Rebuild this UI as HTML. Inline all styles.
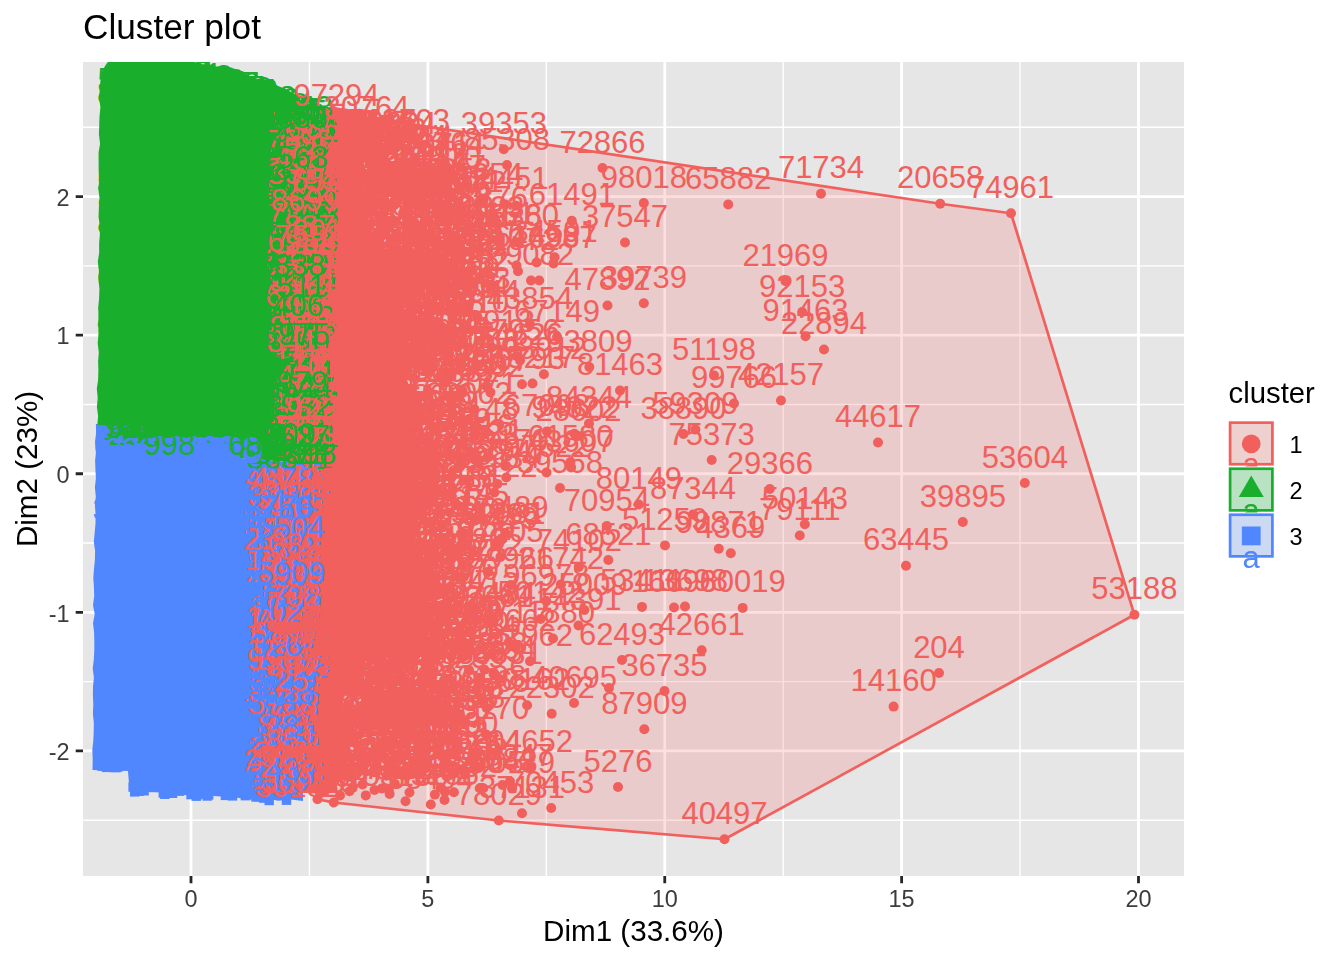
<!DOCTYPE html><html><head><meta charset="utf-8"><title>Cluster plot</title>
<style>html,body{margin:0;padding:0;background:#fff}svg{display:block}text{font-family:"Liberation Sans",sans-serif}.r{fill:#F1605C}.g{fill:#19AF2D}.b{fill:#5087FF}.L{font-size:31.0px;text-anchor:middle}</style></head><body>
<svg width="1344" height="960" viewBox="0 0 1344 960">
<rect width="1344" height="960" fill="#fff"/>
<g opacity="0.999">
<defs><clipPath id="cp"><rect x="83" y="62" width="1101" height="814"/></clipPath></defs>
<rect x="83" y="62" width="1101" height="814" fill="#E6E6E6"/>
<path d="M83 127.25H1184M83 265.85H1184M83 404.45H1184M83 543.05H1184M83 681.65H1184M83 820.25H1184M309.44 62V876M546.31 62V876M783.19 62V876M1020.06 62V876" stroke="#fff" stroke-width="1.4" fill="none"/>
<path d="M83 196.55H1184M83 335.15H1184M83 473.75H1184M83 612.35H1184M83 750.95H1184M191.00 62V876M427.88 62V876M664.75 62V876M901.62 62V876M1138.50 62V876" stroke="#fff" stroke-width="2.8" fill="none"/>
<g clip-path="url(#cp)">
<polygon class="b" points="95.9,424.0 96.1,433.1 95.0,442.1 96.1,451.2 95.1,460.2 95.4,469.3 95.9,478.3 94.9,487.4 95.8,496.4 94.9,505.5 95.6,514.5 95.5,523.6 94.7,532.6 93.8,541.7 95.1,550.7 94.9,559.8 94.0,568.8 93.3,577.9 93.9,586.9 94.2,596.0 93.0,605.0 94.7,614.1 93.0,623.2 94.1,632.2 94.3,641.3 94.3,650.3 93.8,659.4 92.7,668.4 93.9,677.5 93.0,686.5 92.9,695.6 93.3,704.6 92.9,713.7 93.8,722.7 93.7,731.8 93.3,740.8 92.3,749.9 92.7,758.9 92.5,770.0 128.0,771.0 129.5,790.0 130.0,790.6 142.3,791.9 154.7,792.3 167.1,792.7 179.4,794.6 191.8,795.0 204.2,794.7 216.5,796.2 228.9,796.8 241.2,798.3 253.5,798.7 266.0,798.3 278.2,800.7 290.7,799.4 303.0,801.0 300.0,463.0 240.0,458.0 215.0,440.0 200.0,427.0 150.0,425.0"/>
<polygon class="g" points="240.0,458.0 215.0,440.0 200.0,427.0 97.3,425.0 98.1,415.9 96.9,406.8 97.7,397.8 96.8,388.7 98.2,379.6 98.4,370.5 98.1,361.4 98.8,352.4 97.7,343.3 98.5,334.2 98.4,325.1 98.4,316.1 98.3,307.0 99.1,297.9 99.4,288.8 98.5,279.7 98.9,270.7 97.8,261.6 99.2,252.5 99.1,243.4 99.9,234.3 99.6,225.3 98.6,216.2 98.9,207.1 99.5,198.0 98.3,188.9 99.2,179.9 98.7,170.8 98.6,161.7 98.6,152.6 100.1,143.6 98.9,134.5 99.2,125.4 99.5,116.3 100.5,107.2 99.0,98.2 99.8,89.1 101.0,74.0 105.0,66.0 110.6,58.0 191.0,58.0 191.0,61.1 198.8,63.6 206.8,64.9 214.8,66.6 223.1,66.3 231.0,68.3 239.2,69.6 246.9,74.7 255.1,78.6 264.4,80.0 271.6,83.1 278.7,86.3 285.9,89.3 292.8,93.0 300.0,98.0 302.0,463.0"/>
<polygon class="r" points="287.0,480.0 300.0,463.0 300.0,112.0 304.0,108.4 312.0,107.1 320.0,106.0 328.0,107.7 336.0,107.5 344.0,108.3 352.0,109.8 360.0,108.8 367.8,110.0 366.7,121.6 365.9,133.3 372.0,145.1 363.3,156.6 364.4,168.3 363.3,179.9 363.9,191.6 367.7,203.3 367.5,215.0 370.3,226.7 364.8,238.3 370.0,248.3 374.8,259.7 378.4,271.7 383.7,283.0 386.9,295.1 394.4,305.4 399.7,316.6 403.4,329.3 406.2,340.9 406.0,353.1 411.7,364.1 405.7,377.4 410.5,388.6 418.2,400.0 417.0,411.1 415.8,422.2 415.6,433.3 418.5,444.4 409.8,455.6 408.1,466.7 414.4,477.8 414.2,488.9 419.0,500.0 418.8,511.1 415.9,522.2 416.8,533.3 410.1,544.4 418.1,555.6 419.7,566.7 408.6,577.8 413.7,588.9 417.3,601.2 408.9,613.2 409.1,628.2 399.9,639.8 387.0,641.4 376.7,648.0 366.7,655.1 357.9,664.5 347.3,668.1 348.6,679.3 341.8,690.0 343.5,701.3 340.3,712.2 344.1,723.6 344.4,734.7 337.8,745.4 335.3,756.4 335.9,767.6 335.7,778.7 338.1,792.7 329.4,792.4 320.6,793.8 287.0,792.0"/>
<g class="r">
<circle cx="1011.0" cy="213.2" r="5"/><circle cx="940.2" cy="203.8" r="5"/><circle cx="821.0" cy="193.8" r="5"/><circle cx="728.2" cy="204.5" r="5"/><circle cx="643.8" cy="203.0" r="5"/><circle cx="602.5" cy="168.0" r="5"/><circle cx="503.8" cy="149.2" r="5"/><circle cx="507.0" cy="165.0" r="5"/><circle cx="571.8" cy="220.8" r="5"/><circle cx="625.0" cy="242.5" r="5"/><circle cx="505.5" cy="204.5" r="5"/><circle cx="516.2" cy="205.8" r="5"/><circle cx="481.5" cy="233.0" r="5"/><circle cx="478.0" cy="249.0" r="5"/><circle cx="516.5" cy="265.5" r="5"/><circle cx="518.0" cy="271.2" r="5"/><circle cx="531.0" cy="280.5" r="5"/><circle cx="539.2" cy="280.5" r="5"/><circle cx="607.5" cy="305.5" r="5"/><circle cx="643.8" cy="303.2" r="5"/><circle cx="785.5" cy="281.2" r="5"/><circle cx="802.2" cy="312.0" r="5"/><circle cx="805.5" cy="336.2" r="5"/><circle cx="824.0" cy="349.5" r="5"/><circle cx="557.0" cy="337.0" r="5"/><circle cx="516.5" cy="356.0" r="5"/><circle cx="589.3" cy="367.0" r="5"/><circle cx="532.5" cy="383.5" r="5"/><circle cx="620.0" cy="390.5" r="5"/><circle cx="714.0" cy="375.4" r="5"/><circle cx="734.0" cy="403.5" r="5"/><circle cx="781.0" cy="400.5" r="5"/><circle cx="695.4" cy="429.6" r="5"/><circle cx="683.5" cy="434.0" r="5"/><circle cx="711.7" cy="460.0" r="5"/><circle cx="878.0" cy="442.5" r="5"/><circle cx="1024.8" cy="483.0" r="5"/><circle cx="769.8" cy="489.0" r="5"/><circle cx="589.0" cy="423.5" r="5"/><circle cx="578.5" cy="436.0" r="5"/><circle cx="570.5" cy="462.0" r="5"/><circle cx="546.5" cy="472.5" r="5"/><circle cx="560.0" cy="488.0" r="5"/><circle cx="638.8" cy="504.5" r="5"/><circle cx="693.0" cy="514.6" r="5"/><circle cx="962.8" cy="522.0" r="5"/><circle cx="804.8" cy="524.2" r="5"/><circle cx="799.8" cy="535.5" r="5"/><circle cx="665.0" cy="545.4" r="5"/><circle cx="718.8" cy="548.8" r="5"/><circle cx="730.8" cy="553.3" r="5"/><circle cx="606.8" cy="526.0" r="5"/><circle cx="608.3" cy="560.0" r="5"/><circle cx="578.8" cy="566.9" r="5"/><circle cx="906.0" cy="565.8" r="5"/><circle cx="1134.4" cy="614.8" r="5"/><circle cx="642.0" cy="606.9" r="5"/><circle cx="674.0" cy="607.5" r="5"/><circle cx="685.0" cy="606.5" r="5"/><circle cx="742.7" cy="607.9" r="5"/><circle cx="584.4" cy="610.0" r="5"/><circle cx="578.5" cy="625.5" r="5"/><circle cx="553.0" cy="638.5" r="5"/><circle cx="701.7" cy="650.2" r="5"/><circle cx="622.0" cy="660.0" r="5"/><circle cx="664.5" cy="691.0" r="5"/><circle cx="939.0" cy="673.0" r="5"/><circle cx="893.6" cy="706.6" r="5"/><circle cx="644.3" cy="729.2" r="5"/><circle cx="574.0" cy="703.0" r="5"/><circle cx="609.0" cy="688.0" r="5"/><circle cx="551.7" cy="713.8" r="5"/><circle cx="530.0" cy="767.5" r="5"/><circle cx="512.0" cy="788.6" r="5"/><circle cx="618.0" cy="787.0" r="5"/><circle cx="551.2" cy="808.0" r="5"/><circle cx="498.8" cy="820.5" r="5"/><circle cx="724.5" cy="839.2" r="5"/><circle cx="340.0" cy="370.4" r="5"/><circle cx="340.1" cy="773.1" r="5"/><circle cx="340.4" cy="659.3" r="5"/><circle cx="340.5" cy="652.5" r="5"/><circle cx="340.5" cy="622.7" r="5"/><circle cx="340.6" cy="749.0" r="5"/><circle cx="340.8" cy="676.6" r="5"/><circle cx="340.9" cy="636.0" r="5"/><circle cx="341.1" cy="710.5" r="5"/><circle cx="341.1" cy="425.4" r="5"/><circle cx="341.2" cy="649.4" r="5"/><circle cx="341.2" cy="166.5" r="5"/><circle cx="341.7" cy="295.6" r="5"/><circle cx="342.3" cy="359.7" r="5"/><circle cx="342.3" cy="499.6" r="5"/><circle cx="343.0" cy="461.0" r="5"/><circle cx="343.1" cy="660.8" r="5"/><circle cx="343.1" cy="218.2" r="5"/><circle cx="343.3" cy="313.4" r="5"/><circle cx="343.9" cy="163.1" r="5"/><circle cx="344.1" cy="279.1" r="5"/><circle cx="344.4" cy="419.4" r="5"/><circle cx="344.5" cy="575.6" r="5"/><circle cx="344.5" cy="376.1" r="5"/><circle cx="344.6" cy="466.4" r="5"/><circle cx="344.6" cy="671.0" r="5"/><circle cx="344.6" cy="337.1" r="5"/><circle cx="344.9" cy="460.8" r="5"/><circle cx="345.3" cy="288.7" r="5"/><circle cx="345.6" cy="631.6" r="5"/><circle cx="345.8" cy="189.5" r="5"/><circle cx="345.9" cy="772.3" r="5"/><circle cx="346.2" cy="431.7" r="5"/><circle cx="346.2" cy="321.1" r="5"/><circle cx="346.4" cy="455.6" r="5"/><circle cx="346.5" cy="384.0" r="5"/><circle cx="346.6" cy="685.5" r="5"/><circle cx="346.8" cy="417.8" r="5"/><circle cx="347.0" cy="539.5" r="5"/><circle cx="347.0" cy="742.6" r="5"/><circle cx="347.1" cy="403.6" r="5"/><circle cx="347.1" cy="248.0" r="5"/><circle cx="347.1" cy="434.0" r="5"/><circle cx="347.2" cy="264.3" r="5"/><circle cx="347.2" cy="624.8" r="5"/><circle cx="347.3" cy="513.1" r="5"/><circle cx="347.5" cy="153.2" r="5"/><circle cx="347.8" cy="458.1" r="5"/><circle cx="348.2" cy="594.1" r="5"/><circle cx="349.2" cy="560.7" r="5"/><circle cx="349.4" cy="286.8" r="5"/><circle cx="349.4" cy="397.3" r="5"/><circle cx="349.4" cy="462.0" r="5"/><circle cx="349.5" cy="757.2" r="5"/><circle cx="349.5" cy="527.4" r="5"/><circle cx="349.8" cy="382.6" r="5"/><circle cx="350.0" cy="639.9" r="5"/><circle cx="350.0" cy="447.5" r="5"/><circle cx="350.2" cy="533.6" r="5"/><circle cx="350.5" cy="677.3" r="5"/><circle cx="350.7" cy="390.9" r="5"/><circle cx="350.7" cy="462.6" r="5"/><circle cx="351.0" cy="300.2" r="5"/><circle cx="351.3" cy="311.6" r="5"/><circle cx="351.7" cy="647.2" r="5"/><circle cx="351.7" cy="620.1" r="5"/><circle cx="351.8" cy="441.4" r="5"/><circle cx="351.9" cy="735.0" r="5"/><circle cx="352.1" cy="366.9" r="5"/><circle cx="352.2" cy="271.6" r="5"/><circle cx="352.2" cy="543.8" r="5"/><circle cx="352.3" cy="180.2" r="5"/><circle cx="352.4" cy="411.4" r="5"/><circle cx="352.5" cy="559.1" r="5"/><circle cx="352.6" cy="241.1" r="5"/><circle cx="352.6" cy="245.0" r="5"/><circle cx="352.9" cy="619.6" r="5"/><circle cx="352.9" cy="742.3" r="5"/><circle cx="352.9" cy="684.8" r="5"/><circle cx="353.1" cy="651.3" r="5"/><circle cx="353.3" cy="476.6" r="5"/><circle cx="353.5" cy="670.8" r="5"/><circle cx="353.5" cy="685.5" r="5"/><circle cx="353.7" cy="467.3" r="5"/><circle cx="354.0" cy="165.5" r="5"/><circle cx="354.1" cy="472.5" r="5"/><circle cx="354.1" cy="650.3" r="5"/><circle cx="354.3" cy="736.3" r="5"/><circle cx="354.7" cy="347.1" r="5"/><circle cx="354.8" cy="655.5" r="5"/><circle cx="354.9" cy="659.1" r="5"/><circle cx="354.9" cy="354.7" r="5"/><circle cx="355.1" cy="571.8" r="5"/><circle cx="355.2" cy="376.4" r="5"/><circle cx="355.2" cy="153.5" r="5"/><circle cx="355.3" cy="487.3" r="5"/><circle cx="355.4" cy="649.1" r="5"/><circle cx="355.5" cy="460.4" r="5"/><circle cx="355.6" cy="403.8" r="5"/><circle cx="355.7" cy="340.8" r="5"/><circle cx="355.9" cy="286.4" r="5"/><circle cx="356.1" cy="310.7" r="5"/><circle cx="356.1" cy="713.0" r="5"/><circle cx="356.3" cy="271.3" r="5"/><circle cx="356.4" cy="353.3" r="5"/><circle cx="356.7" cy="160.5" r="5"/><circle cx="356.7" cy="231.5" r="5"/><circle cx="356.8" cy="619.6" r="5"/><circle cx="356.9" cy="389.4" r="5"/><circle cx="357.0" cy="204.1" r="5"/><circle cx="357.1" cy="358.5" r="5"/><circle cx="357.2" cy="477.3" r="5"/><circle cx="357.2" cy="673.8" r="5"/><circle cx="357.3" cy="628.6" r="5"/><circle cx="357.3" cy="658.7" r="5"/><circle cx="357.9" cy="754.8" r="5"/><circle cx="358.0" cy="366.3" r="5"/><circle cx="358.1" cy="623.1" r="5"/><circle cx="358.3" cy="294.2" r="5"/><circle cx="358.3" cy="479.7" r="5"/><circle cx="358.3" cy="568.2" r="5"/><circle cx="358.4" cy="617.4" r="5"/><circle cx="359.1" cy="288.2" r="5"/><circle cx="359.1" cy="548.9" r="5"/><circle cx="359.2" cy="549.8" r="5"/><circle cx="359.5" cy="656.2" r="5"/><circle cx="359.5" cy="585.6" r="5"/><circle cx="359.6" cy="388.2" r="5"/><circle cx="360.1" cy="440.6" r="5"/><circle cx="360.4" cy="444.5" r="5"/><circle cx="360.9" cy="660.4" r="5"/><circle cx="361.3" cy="650.7" r="5"/><circle cx="361.4" cy="568.0" r="5"/><circle cx="361.4" cy="205.3" r="5"/><circle cx="361.9" cy="311.6" r="5"/><circle cx="362.0" cy="299.9" r="5"/><circle cx="362.6" cy="666.9" r="5"/><circle cx="362.6" cy="423.1" r="5"/><circle cx="363.0" cy="346.0" r="5"/><circle cx="363.1" cy="209.8" r="5"/><circle cx="363.5" cy="636.9" r="5"/><circle cx="363.5" cy="708.3" r="5"/><circle cx="363.6" cy="259.6" r="5"/><circle cx="363.9" cy="417.8" r="5"/><circle cx="364.0" cy="510.5" r="5"/><circle cx="364.0" cy="634.8" r="5"/><circle cx="364.3" cy="607.3" r="5"/><circle cx="364.6" cy="761.9" r="5"/><circle cx="364.7" cy="509.1" r="5"/><circle cx="364.8" cy="612.9" r="5"/><circle cx="365.0" cy="314.0" r="5"/><circle cx="365.8" cy="522.0" r="5"/><circle cx="366.0" cy="262.5" r="5"/><circle cx="366.0" cy="507.7" r="5"/><circle cx="366.2" cy="345.3" r="5"/><circle cx="366.7" cy="304.9" r="5"/><circle cx="366.8" cy="157.0" r="5"/><circle cx="367.1" cy="500.1" r="5"/><circle cx="367.5" cy="175.4" r="5"/><circle cx="367.7" cy="294.8" r="5"/><circle cx="367.7" cy="683.1" r="5"/><circle cx="368.0" cy="434.5" r="5"/><circle cx="368.0" cy="378.1" r="5"/><circle cx="368.0" cy="500.5" r="5"/><circle cx="368.1" cy="300.2" r="5"/><circle cx="368.1" cy="729.1" r="5"/><circle cx="368.3" cy="684.7" r="5"/><circle cx="368.3" cy="309.9" r="5"/><circle cx="368.3" cy="724.5" r="5"/><circle cx="368.3" cy="557.0" r="5"/><circle cx="368.6" cy="267.5" r="5"/><circle cx="368.7" cy="253.6" r="5"/><circle cx="368.8" cy="519.9" r="5"/><circle cx="368.9" cy="610.5" r="5"/><circle cx="368.9" cy="573.8" r="5"/><circle cx="369.5" cy="329.5" r="5"/><circle cx="369.7" cy="158.7" r="5"/><circle cx="369.8" cy="200.4" r="5"/><circle cx="369.8" cy="466.2" r="5"/><circle cx="370.0" cy="492.9" r="5"/><circle cx="370.0" cy="626.9" r="5"/><circle cx="370.2" cy="360.3" r="5"/><circle cx="370.4" cy="210.3" r="5"/><circle cx="370.4" cy="152.6" r="5"/><circle cx="370.7" cy="582.4" r="5"/><circle cx="370.8" cy="562.2" r="5"/><circle cx="371.4" cy="674.2" r="5"/><circle cx="371.6" cy="242.6" r="5"/><circle cx="372.0" cy="575.8" r="5"/><circle cx="372.6" cy="611.7" r="5"/><circle cx="372.7" cy="562.8" r="5"/><circle cx="372.8" cy="423.8" r="5"/><circle cx="373.2" cy="146.0" r="5"/><circle cx="373.2" cy="489.7" r="5"/><circle cx="373.7" cy="474.2" r="5"/><circle cx="373.9" cy="469.1" r="5"/><circle cx="374.1" cy="149.1" r="5"/><circle cx="374.3" cy="158.0" r="5"/><circle cx="374.4" cy="606.9" r="5"/><circle cx="374.6" cy="167.7" r="5"/><circle cx="374.7" cy="608.9" r="5"/><circle cx="374.7" cy="706.8" r="5"/><circle cx="374.8" cy="402.7" r="5"/><circle cx="374.9" cy="423.9" r="5"/><circle cx="375.0" cy="658.9" r="5"/><circle cx="375.1" cy="435.1" r="5"/><circle cx="375.4" cy="646.6" r="5"/><circle cx="375.7" cy="751.7" r="5"/><circle cx="375.8" cy="725.7" r="5"/><circle cx="375.9" cy="257.8" r="5"/><circle cx="376.0" cy="165.5" r="5"/><circle cx="376.3" cy="751.0" r="5"/><circle cx="376.4" cy="656.7" r="5"/><circle cx="376.9" cy="253.2" r="5"/><circle cx="377.0" cy="302.3" r="5"/><circle cx="377.0" cy="555.4" r="5"/><circle cx="377.0" cy="294.6" r="5"/><circle cx="377.1" cy="550.8" r="5"/><circle cx="377.3" cy="404.8" r="5"/><circle cx="377.3" cy="274.2" r="5"/><circle cx="377.3" cy="503.8" r="5"/><circle cx="377.5" cy="300.2" r="5"/><circle cx="377.6" cy="333.1" r="5"/><circle cx="377.7" cy="353.0" r="5"/><circle cx="377.9" cy="305.3" r="5"/><circle cx="378.2" cy="612.2" r="5"/><circle cx="378.3" cy="415.0" r="5"/><circle cx="378.7" cy="477.6" r="5"/><circle cx="378.9" cy="670.0" r="5"/><circle cx="378.9" cy="509.2" r="5"/><circle cx="379.2" cy="432.4" r="5"/><circle cx="379.3" cy="428.5" r="5"/><circle cx="379.4" cy="514.4" r="5"/><circle cx="380.0" cy="171.5" r="5"/><circle cx="380.0" cy="219.4" r="5"/><circle cx="380.2" cy="709.1" r="5"/><circle cx="380.3" cy="621.2" r="5"/><circle cx="380.6" cy="520.4" r="5"/><circle cx="380.6" cy="309.6" r="5"/><circle cx="381.0" cy="164.4" r="5"/><circle cx="381.1" cy="433.9" r="5"/><circle cx="381.1" cy="356.1" r="5"/><circle cx="381.5" cy="346.5" r="5"/><circle cx="381.7" cy="788.5" r="5"/><circle cx="381.9" cy="378.3" r="5"/><circle cx="382.1" cy="500.8" r="5"/><circle cx="382.7" cy="579.6" r="5"/><circle cx="382.9" cy="524.6" r="5"/><circle cx="383.3" cy="708.0" r="5"/><circle cx="383.4" cy="310.3" r="5"/><circle cx="383.4" cy="155.6" r="5"/><circle cx="383.4" cy="469.4" r="5"/><circle cx="383.6" cy="534.0" r="5"/><circle cx="383.6" cy="231.7" r="5"/><circle cx="383.8" cy="584.8" r="5"/><circle cx="384.1" cy="711.4" r="5"/><circle cx="384.5" cy="357.4" r="5"/><circle cx="384.9" cy="454.1" r="5"/><circle cx="385.1" cy="647.1" r="5"/><circle cx="385.2" cy="649.2" r="5"/><circle cx="385.4" cy="487.4" r="5"/><circle cx="385.8" cy="731.3" r="5"/><circle cx="386.2" cy="164.1" r="5"/><circle cx="386.3" cy="514.3" r="5"/><circle cx="386.7" cy="282.2" r="5"/><circle cx="386.8" cy="667.5" r="5"/><circle cx="387.2" cy="424.3" r="5"/><circle cx="387.4" cy="486.0" r="5"/><circle cx="387.6" cy="371.8" r="5"/><circle cx="387.7" cy="322.2" r="5"/><circle cx="387.9" cy="272.6" r="5"/><circle cx="388.0" cy="356.6" r="5"/><circle cx="388.2" cy="611.1" r="5"/><circle cx="389.1" cy="548.4" r="5"/><circle cx="389.3" cy="607.7" r="5"/><circle cx="389.4" cy="681.7" r="5"/><circle cx="389.4" cy="543.1" r="5"/><circle cx="389.6" cy="794.0" r="5"/><circle cx="389.8" cy="708.7" r="5"/><circle cx="389.9" cy="439.7" r="5"/><circle cx="390.1" cy="638.1" r="5"/><circle cx="390.2" cy="665.8" r="5"/><circle cx="390.3" cy="183.8" r="5"/><circle cx="390.4" cy="312.2" r="5"/><circle cx="390.5" cy="703.0" r="5"/><circle cx="390.6" cy="387.4" r="5"/><circle cx="390.6" cy="540.2" r="5"/><circle cx="390.8" cy="522.6" r="5"/><circle cx="390.8" cy="435.3" r="5"/><circle cx="391.2" cy="289.9" r="5"/><circle cx="391.3" cy="696.2" r="5"/><circle cx="391.4" cy="410.5" r="5"/><circle cx="391.4" cy="482.6" r="5"/><circle cx="391.7" cy="588.1" r="5"/><circle cx="392.0" cy="513.0" r="5"/><circle cx="392.1" cy="715.7" r="5"/><circle cx="392.2" cy="469.2" r="5"/><circle cx="392.3" cy="741.5" r="5"/><circle cx="392.3" cy="206.8" r="5"/><circle cx="392.4" cy="433.9" r="5"/><circle cx="392.5" cy="524.2" r="5"/><circle cx="392.6" cy="275.9" r="5"/><circle cx="392.9" cy="488.3" r="5"/><circle cx="393.1" cy="738.4" r="5"/><circle cx="393.2" cy="497.7" r="5"/><circle cx="393.3" cy="149.0" r="5"/><circle cx="393.4" cy="628.1" r="5"/><circle cx="393.6" cy="221.3" r="5"/><circle cx="393.6" cy="480.2" r="5"/><circle cx="393.6" cy="689.5" r="5"/><circle cx="393.7" cy="576.7" r="5"/><circle cx="393.7" cy="317.2" r="5"/><circle cx="393.7" cy="494.8" r="5"/><circle cx="394.4" cy="303.6" r="5"/><circle cx="394.6" cy="319.5" r="5"/><circle cx="394.6" cy="516.9" r="5"/><circle cx="394.8" cy="783.9" r="5"/><circle cx="394.9" cy="743.8" r="5"/><circle cx="395.1" cy="479.4" r="5"/><circle cx="395.2" cy="192.4" r="5"/><circle cx="395.3" cy="560.2" r="5"/><circle cx="395.6" cy="630.7" r="5"/><circle cx="395.9" cy="530.6" r="5"/><circle cx="396.4" cy="608.2" r="5"/><circle cx="396.8" cy="661.5" r="5"/><circle cx="397.1" cy="343.3" r="5"/><circle cx="397.4" cy="681.0" r="5"/><circle cx="397.9" cy="490.5" r="5"/><circle cx="397.9" cy="672.3" r="5"/><circle cx="398.4" cy="322.6" r="5"/><circle cx="398.8" cy="481.3" r="5"/><circle cx="398.8" cy="360.7" r="5"/><circle cx="399.0" cy="501.8" r="5"/><circle cx="399.8" cy="651.9" r="5"/><circle cx="399.9" cy="759.1" r="5"/><circle cx="399.9" cy="590.4" r="5"/><circle cx="400.1" cy="354.5" r="5"/><circle cx="400.3" cy="441.3" r="5"/><circle cx="400.3" cy="539.4" r="5"/><circle cx="400.8" cy="259.0" r="5"/><circle cx="401.1" cy="372.2" r="5"/><circle cx="401.2" cy="610.4" r="5"/><circle cx="401.3" cy="732.2" r="5"/><circle cx="401.5" cy="195.7" r="5"/><circle cx="402.2" cy="717.6" r="5"/><circle cx="402.3" cy="329.9" r="5"/><circle cx="402.3" cy="290.1" r="5"/><circle cx="402.3" cy="602.5" r="5"/><circle cx="402.5" cy="535.9" r="5"/><circle cx="402.6" cy="663.0" r="5"/><circle cx="402.6" cy="477.5" r="5"/><circle cx="402.7" cy="529.1" r="5"/><circle cx="403.1" cy="550.2" r="5"/><circle cx="403.2" cy="335.1" r="5"/><circle cx="403.3" cy="650.2" r="5"/><circle cx="403.5" cy="615.7" r="5"/><circle cx="403.8" cy="356.6" r="5"/><circle cx="404.0" cy="446.1" r="5"/><circle cx="404.0" cy="370.8" r="5"/><circle cx="404.2" cy="493.2" r="5"/><circle cx="404.4" cy="624.1" r="5"/><circle cx="404.4" cy="162.6" r="5"/><circle cx="404.4" cy="654.9" r="5"/><circle cx="405.8" cy="474.2" r="5"/><circle cx="405.9" cy="737.0" r="5"/><circle cx="406.0" cy="744.2" r="5"/><circle cx="406.3" cy="217.2" r="5"/><circle cx="406.5" cy="742.4" r="5"/><circle cx="407.4" cy="212.2" r="5"/><circle cx="407.4" cy="331.4" r="5"/><circle cx="407.5" cy="204.1" r="5"/><circle cx="407.7" cy="523.8" r="5"/><circle cx="408.0" cy="718.2" r="5"/><circle cx="408.4" cy="636.6" r="5"/><circle cx="408.5" cy="170.0" r="5"/><circle cx="408.5" cy="649.7" r="5"/><circle cx="408.6" cy="557.6" r="5"/><circle cx="408.9" cy="292.7" r="5"/><circle cx="409.0" cy="432.7" r="5"/><circle cx="409.2" cy="638.4" r="5"/><circle cx="409.3" cy="201.5" r="5"/><circle cx="409.3" cy="199.9" r="5"/><circle cx="409.5" cy="732.3" r="5"/><circle cx="409.6" cy="622.7" r="5"/><circle cx="409.8" cy="225.4" r="5"/><circle cx="409.8" cy="163.6" r="5"/><circle cx="409.9" cy="580.2" r="5"/><circle cx="410.0" cy="198.9" r="5"/><circle cx="410.5" cy="738.4" r="5"/><circle cx="410.6" cy="281.6" r="5"/><circle cx="410.6" cy="728.0" r="5"/><circle cx="410.7" cy="691.9" r="5"/><circle cx="411.1" cy="279.9" r="5"/><circle cx="411.3" cy="512.3" r="5"/><circle cx="411.7" cy="311.4" r="5"/><circle cx="412.0" cy="659.4" r="5"/><circle cx="412.1" cy="273.5" r="5"/><circle cx="412.6" cy="605.1" r="5"/><circle cx="412.7" cy="701.0" r="5"/><circle cx="412.7" cy="359.2" r="5"/><circle cx="413.3" cy="397.7" r="5"/><circle cx="413.4" cy="508.5" r="5"/><circle cx="413.4" cy="771.3" r="5"/><circle cx="413.5" cy="428.9" r="5"/><circle cx="413.5" cy="522.8" r="5"/><circle cx="413.8" cy="613.2" r="5"/><circle cx="414.2" cy="735.5" r="5"/><circle cx="414.6" cy="234.3" r="5"/><circle cx="415.2" cy="569.9" r="5"/><circle cx="416.0" cy="302.4" r="5"/><circle cx="416.2" cy="459.6" r="5"/><circle cx="416.3" cy="609.0" r="5"/><circle cx="416.5" cy="511.0" r="5"/><circle cx="417.1" cy="287.5" r="5"/><circle cx="417.1" cy="206.0" r="5"/><circle cx="417.1" cy="307.6" r="5"/><circle cx="417.5" cy="365.1" r="5"/><circle cx="417.6" cy="750.8" r="5"/><circle cx="417.7" cy="604.3" r="5"/><circle cx="417.7" cy="474.2" r="5"/><circle cx="417.9" cy="349.4" r="5"/><circle cx="418.3" cy="309.0" r="5"/><circle cx="418.6" cy="198.5" r="5"/><circle cx="418.7" cy="734.8" r="5"/><circle cx="419.0" cy="245.8" r="5"/><circle cx="419.3" cy="359.2" r="5"/><circle cx="419.5" cy="363.0" r="5"/><circle cx="419.6" cy="288.3" r="5"/><circle cx="419.9" cy="440.4" r="5"/><circle cx="420.1" cy="651.6" r="5"/><circle cx="420.3" cy="339.9" r="5"/><circle cx="420.5" cy="440.6" r="5"/><circle cx="420.7" cy="630.0" r="5"/><circle cx="420.7" cy="231.0" r="5"/><circle cx="420.8" cy="421.1" r="5"/><circle cx="421.0" cy="513.4" r="5"/><circle cx="421.2" cy="245.9" r="5"/><circle cx="421.8" cy="581.9" r="5"/><circle cx="422.0" cy="395.9" r="5"/><circle cx="422.1" cy="761.2" r="5"/><circle cx="422.4" cy="572.3" r="5"/><circle cx="422.6" cy="679.1" r="5"/><circle cx="422.6" cy="358.9" r="5"/><circle cx="423.0" cy="720.9" r="5"/><circle cx="423.6" cy="626.5" r="5"/><circle cx="423.7" cy="209.8" r="5"/><circle cx="423.9" cy="570.0" r="5"/><circle cx="424.2" cy="471.4" r="5"/><circle cx="424.7" cy="180.7" r="5"/><circle cx="425.6" cy="440.0" r="5"/><circle cx="425.6" cy="356.8" r="5"/><circle cx="425.7" cy="641.3" r="5"/><circle cx="426.4" cy="749.9" r="5"/><circle cx="426.6" cy="458.6" r="5"/><circle cx="426.8" cy="673.8" r="5"/><circle cx="426.9" cy="314.4" r="5"/><circle cx="426.9" cy="170.5" r="5"/><circle cx="427.4" cy="622.0" r="5"/><circle cx="428.0" cy="220.7" r="5"/><circle cx="428.0" cy="368.3" r="5"/><circle cx="428.1" cy="650.5" r="5"/><circle cx="428.3" cy="391.5" r="5"/><circle cx="428.3" cy="219.9" r="5"/><circle cx="428.7" cy="482.3" r="5"/><circle cx="429.1" cy="421.2" r="5"/><circle cx="429.8" cy="558.0" r="5"/><circle cx="430.1" cy="258.2" r="5"/><circle cx="430.3" cy="594.3" r="5"/><circle cx="430.3" cy="577.7" r="5"/><circle cx="430.5" cy="676.0" r="5"/><circle cx="431.3" cy="331.2" r="5"/><circle cx="431.5" cy="563.6" r="5"/><circle cx="431.7" cy="288.7" r="5"/><circle cx="431.8" cy="305.2" r="5"/><circle cx="432.4" cy="202.1" r="5"/><circle cx="432.4" cy="269.1" r="5"/><circle cx="432.8" cy="291.9" r="5"/><circle cx="432.9" cy="326.8" r="5"/><circle cx="433.0" cy="277.4" r="5"/><circle cx="433.1" cy="580.7" r="5"/><circle cx="433.3" cy="444.2" r="5"/><circle cx="433.7" cy="521.2" r="5"/><circle cx="434.9" cy="794.6" r="5"/><circle cx="435.2" cy="645.6" r="5"/><circle cx="435.8" cy="428.9" r="5"/><circle cx="435.8" cy="658.0" r="5"/><circle cx="436.2" cy="208.4" r="5"/><circle cx="436.9" cy="640.4" r="5"/><circle cx="437.8" cy="183.6" r="5"/><circle cx="438.2" cy="709.1" r="5"/><circle cx="439.0" cy="637.9" r="5"/><circle cx="439.4" cy="750.6" r="5"/><circle cx="440.4" cy="375.3" r="5"/><circle cx="440.8" cy="787.7" r="5"/><circle cx="440.9" cy="513.6" r="5"/><circle cx="441.3" cy="286.9" r="5"/><circle cx="441.5" cy="538.3" r="5"/><circle cx="441.5" cy="488.4" r="5"/><circle cx="441.5" cy="349.0" r="5"/><circle cx="441.7" cy="169.2" r="5"/><circle cx="441.7" cy="526.9" r="5"/><circle cx="442.5" cy="740.2" r="5"/><circle cx="443.4" cy="261.7" r="5"/><circle cx="444.5" cy="257.9" r="5"/><circle cx="444.7" cy="247.2" r="5"/><circle cx="444.8" cy="205.2" r="5"/><circle cx="444.9" cy="688.5" r="5"/><circle cx="445.0" cy="791.9" r="5"/><circle cx="445.3" cy="382.4" r="5"/><circle cx="445.4" cy="759.7" r="5"/><circle cx="445.5" cy="756.5" r="5"/><circle cx="446.1" cy="348.5" r="5"/><circle cx="446.3" cy="591.3" r="5"/><circle cx="446.5" cy="232.4" r="5"/><circle cx="447.3" cy="380.2" r="5"/><circle cx="447.3" cy="222.4" r="5"/><circle cx="447.9" cy="679.3" r="5"/><circle cx="448.0" cy="211.3" r="5"/><circle cx="448.2" cy="372.2" r="5"/><circle cx="448.3" cy="607.8" r="5"/><circle cx="448.3" cy="445.2" r="5"/><circle cx="448.5" cy="195.7" r="5"/><circle cx="449.4" cy="309.5" r="5"/><circle cx="449.4" cy="354.1" r="5"/><circle cx="449.6" cy="495.6" r="5"/><circle cx="449.8" cy="512.4" r="5"/><circle cx="450.1" cy="454.4" r="5"/><circle cx="450.6" cy="330.7" r="5"/><circle cx="450.6" cy="396.8" r="5"/><circle cx="451.0" cy="717.1" r="5"/><circle cx="451.3" cy="477.0" r="5"/><circle cx="451.3" cy="252.1" r="5"/><circle cx="451.4" cy="267.4" r="5"/><circle cx="451.5" cy="192.6" r="5"/><circle cx="451.5" cy="656.9" r="5"/><circle cx="452.2" cy="288.4" r="5"/><circle cx="452.8" cy="726.0" r="5"/><circle cx="453.0" cy="303.9" r="5"/><circle cx="453.0" cy="313.6" r="5"/><circle cx="453.9" cy="792.3" r="5"/><circle cx="454.2" cy="772.9" r="5"/><circle cx="455.2" cy="749.6" r="5"/><circle cx="455.2" cy="502.9" r="5"/><circle cx="455.3" cy="723.4" r="5"/><circle cx="455.7" cy="595.1" r="5"/><circle cx="456.3" cy="397.7" r="5"/><circle cx="456.4" cy="505.3" r="5"/><circle cx="456.7" cy="632.7" r="5"/><circle cx="457.1" cy="294.8" r="5"/><circle cx="457.1" cy="576.7" r="5"/><circle cx="457.4" cy="718.6" r="5"/><circle cx="457.6" cy="240.4" r="5"/><circle cx="457.9" cy="310.4" r="5"/><circle cx="458.1" cy="273.9" r="5"/><circle cx="459.0" cy="629.5" r="5"/><circle cx="459.5" cy="769.2" r="5"/><circle cx="459.8" cy="714.3" r="5"/><circle cx="460.0" cy="253.6" r="5"/><circle cx="460.2" cy="246.8" r="5"/><circle cx="460.2" cy="633.7" r="5"/><circle cx="460.4" cy="207.8" r="5"/><circle cx="461.0" cy="458.2" r="5"/><circle cx="461.1" cy="363.4" r="5"/><circle cx="462.2" cy="723.1" r="5"/><circle cx="462.4" cy="652.8" r="5"/><circle cx="462.5" cy="390.7" r="5"/><circle cx="462.7" cy="308.3" r="5"/><circle cx="463.0" cy="565.6" r="5"/><circle cx="463.8" cy="577.3" r="5"/><circle cx="463.9" cy="535.1" r="5"/><circle cx="465.8" cy="279.8" r="5"/><circle cx="465.9" cy="328.0" r="5"/><circle cx="465.9" cy="286.4" r="5"/><circle cx="466.1" cy="312.3" r="5"/><circle cx="466.2" cy="480.5" r="5"/><circle cx="466.2" cy="648.5" r="5"/><circle cx="467.5" cy="304.7" r="5"/><circle cx="468.4" cy="271.2" r="5"/><circle cx="468.6" cy="419.5" r="5"/><circle cx="469.0" cy="670.0" r="5"/><circle cx="469.0" cy="632.5" r="5"/><circle cx="470.5" cy="451.8" r="5"/><circle cx="472.1" cy="241.3" r="5"/><circle cx="472.3" cy="552.3" r="5"/><circle cx="474.3" cy="409.1" r="5"/><circle cx="474.9" cy="520.8" r="5"/><circle cx="475.4" cy="435.3" r="5"/><circle cx="476.1" cy="365.1" r="5"/><circle cx="476.1" cy="609.6" r="5"/><circle cx="476.5" cy="460.3" r="5"/><circle cx="477.1" cy="317.1" r="5"/><circle cx="477.2" cy="367.0" r="5"/><circle cx="478.9" cy="767.1" r="5"/><circle cx="479.5" cy="683.2" r="5"/><circle cx="480.0" cy="677.7" r="5"/><circle cx="480.5" cy="200.6" r="5"/><circle cx="481.2" cy="788.1" r="5"/><circle cx="483.1" cy="702.0" r="5"/><circle cx="484.4" cy="669.6" r="5"/><circle cx="486.2" cy="734.5" r="5"/><circle cx="486.4" cy="386.1" r="5"/><circle cx="486.6" cy="707.9" r="5"/><circle cx="488.3" cy="571.8" r="5"/><circle cx="488.9" cy="456.8" r="5"/><circle cx="490.0" cy="622.1" r="5"/><circle cx="490.4" cy="392.4" r="5"/><circle cx="491.6" cy="239.3" r="5"/><circle cx="491.8" cy="347.5" r="5"/><circle cx="492.1" cy="652.9" r="5"/><circle cx="492.9" cy="619.4" r="5"/><circle cx="493.5" cy="674.1" r="5"/><circle cx="493.6" cy="223.1" r="5"/><circle cx="494.4" cy="492.5" r="5"/><circle cx="495.3" cy="544.3" r="5"/><circle cx="497.3" cy="483.9" r="5"/><circle cx="497.9" cy="540.8" r="5"/><circle cx="498.8" cy="241.2" r="5"/><circle cx="499.7" cy="679.3" r="5"/><circle cx="500.4" cy="557.0" r="5"/><circle cx="502.5" cy="539.2" r="5"/><circle cx="505.4" cy="533.1" r="5"/><circle cx="505.4" cy="466.0" r="5"/><circle cx="506.3" cy="477.5" r="5"/><circle cx="511.0" cy="584.9" r="5"/><circle cx="512.9" cy="646.3" r="5"/><circle cx="515.9" cy="241.9" r="5"/><circle cx="520.0" cy="360.4" r="5"/><circle cx="522.0" cy="384.2" r="5"/><circle cx="527.1" cy="705.2" r="5"/><circle cx="529.8" cy="324.1" r="5"/><circle cx="530.0" cy="661.2" r="5"/><circle cx="536.6" cy="262.5" r="5"/><circle cx="540.6" cy="618.9" r="5"/><circle cx="543.9" cy="374.3" r="5"/><circle cx="546.4" cy="601.1" r="5"/><circle cx="546.9" cy="431.4" r="5"/><circle cx="553.5" cy="263.4" r="5"/><circle cx="554.6" cy="257.3" r="5"/><circle cx="560.9" cy="584.4" r="5"/><circle cx="571.1" cy="467.4" r="5"/><circle cx="574.4" cy="433.7" r="5"/><circle cx="349.7" cy="167.7" r="5"/><circle cx="383.4" cy="162.0" r="5"/><circle cx="420.0" cy="185.9" r="5"/><circle cx="316.7" cy="150.7" r="5"/><circle cx="420.2" cy="768.7" r="5"/><circle cx="386.6" cy="775.7" r="5"/><circle cx="389.7" cy="767.0" r="5"/><circle cx="348.8" cy="775.2" r="5"/><circle cx="365.8" cy="795.4" r="5"/><circle cx="396.2" cy="774.4" r="5"/><circle cx="352.7" cy="787.6" r="5"/><circle cx="417.7" cy="767.0" r="5"/><circle cx="317.5" cy="799.2" r="5"/><circle cx="333.8" cy="802.5" r="5"/><circle cx="322.5" cy="792.5" r="5"/><circle cx="340.0" cy="795.5" r="5"/><circle cx="349.5" cy="791.2" r="5"/><circle cx="362.5" cy="784.5" r="5"/><circle cx="374.5" cy="790.0" r="5"/><circle cx="388.8" cy="790.0" r="5"/><circle cx="405.5" cy="801.2" r="5"/><circle cx="409.5" cy="792.5" r="5"/><circle cx="430.8" cy="804.5" r="5"/><circle cx="444.5" cy="800.0" r="5"/><circle cx="522.0" cy="813.2" r="5"/><circle cx="465.0" cy="775.0" r="5"/><circle cx="502.5" cy="785.0" r="5"/><circle cx="510.0" cy="781.2" r="5"/>
</g>
<g class="b"><rect x="167.8" y="788.6" width="9.4" height="9.4"/><rect x="202.1" y="788.8" width="9.4" height="9.4"/><rect x="217.3" y="786.0" width="9.4" height="9.4"/><rect x="139.4" y="786.1" width="9.4" height="9.4"/><rect x="243.4" y="790.0" width="9.4" height="9.4"/><rect x="281.8" y="795.5" width="9.4" height="9.4"/><rect x="178.7" y="783.9" width="9.4" height="9.4"/><rect x="220.7" y="790.7" width="9.4" height="9.4"/><rect x="165.8" y="783.0" width="9.4" height="9.4"/><rect x="209.6" y="785.4" width="9.4" height="9.4"/><rect x="251.3" y="792.3" width="9.4" height="9.4"/><rect x="174.9" y="786.5" width="9.4" height="9.4"/><rect x="167.2" y="784.1" width="9.4" height="9.4"/><rect x="158.6" y="788.3" width="9.4" height="9.4"/><rect x="204.0" y="790.2" width="9.4" height="9.4"/><rect x="186.3" y="789.9" width="9.4" height="9.4"/><rect x="227.8" y="791.2" width="9.4" height="9.4"/><rect x="193.9" y="788.5" width="9.4" height="9.4"/><rect x="160.1" y="789.6" width="9.4" height="9.4"/><rect x="240.6" y="791.0" width="9.4" height="9.4"/><rect x="235.0" y="787.4" width="9.4" height="9.4"/><rect x="184.2" y="785.4" width="9.4" height="9.4"/><rect x="269.1" y="788.7" width="9.4" height="9.4"/><rect x="202.6" y="791.3" width="9.4" height="9.4"/><rect x="259.0" y="793.4" width="9.4" height="9.4"/><rect x="178.7" y="785.1" width="9.4" height="9.4"/><rect x="245.9" y="789.5" width="9.4" height="9.4"/><rect x="249.1" y="790.1" width="9.4" height="9.4"/><rect x="255.3" y="792.1" width="9.4" height="9.4"/><rect x="264.5" y="795.8" width="9.4" height="9.4"/><rect x="191.5" y="791.5" width="9.4" height="9.4"/><rect x="130.0" y="787.2" width="9.4" height="9.4"/><rect x="133.3" y="784.9" width="9.4" height="9.4"/><rect x="193.1" y="790.0" width="9.4" height="9.4"/><rect x="180.9" y="785.1" width="9.4" height="9.4"/><rect x="259.2" y="792.2" width="9.4" height="9.4"/><rect x="254.5" y="791.5" width="9.4" height="9.4"/><rect x="134.4" y="786.6" width="9.4" height="9.4"/><rect x="164.7" y="786.1" width="9.4" height="9.4"/><rect x="128.4" y="782.4" width="9.4" height="9.4"/><rect x="111.3" y="762.9" width="9.4" height="9.4"/><rect x="110.4" y="761.0" width="9.4" height="9.4"/><rect x="113.3" y="762.3" width="9.4" height="9.4"/><rect x="97.5" y="761.5" width="9.4" height="9.4"/><rect x="109.2" y="762.7" width="9.4" height="9.4"/><rect x="97.2" y="760.2" width="9.4" height="9.4"/><rect x="101.6" y="758.9" width="9.4" height="9.4"/><rect x="101.8" y="762.7" width="9.4" height="9.4"/><rect x="108.6" y="759.3" width="9.4" height="9.4"/><rect x="113.2" y="759.0" width="9.4" height="9.4"/></g>
<polygon points="1011.00,213.25 1134.40,614.80 724.50,839.25 498.75,820.50 333.75,802.50 317.50,799.25 296.00,700.00 292.00,300.00 300.00,118.00 336.00,113.00 940.25,203.75" fill="#F1605C" fill-opacity="0.2" stroke="#F1605C" stroke-width="2.7" stroke-linejoin="round"/>
<g class="L r"><text x="1011.0" y="197.8">74961</text><text x="940.2" y="188.2">20658</text><text x="821.0" y="178.2">71734</text><text x="728.2" y="189.0">65882</text><text x="643.8" y="187.5">98018</text><text x="602.5" y="152.5">72866</text><text x="503.8" y="133.8">39353</text><text x="507.0" y="149.5">85308</text><text x="571.8" y="205.2">61491</text><text x="625.0" y="227.0">37547</text><text x="505.5" y="189.0">84451</text><text x="481.5" y="217.5">52823</text><text x="478.0" y="233.5">64217</text><text x="516.5" y="250.0">31072</text><text x="531.0" y="265.0">69082</text><text x="607.5" y="290.0">47892</text><text x="643.8" y="287.8">39739</text><text x="785.5" y="265.8">21969</text><text x="802.2" y="296.5">92153</text><text x="805.5" y="320.8">91463</text><text x="824.0" y="334.0">22894</text><text x="557.0" y="321.5">67149</text><text x="516.5" y="340.5">97956</text><text x="589.3" y="351.5">93809</text><text x="532.5" y="368.0">45217</text><text x="620.0" y="375.0">81463</text><text x="714.0" y="359.9">51198</text><text x="734.0" y="388.0">99766</text><text x="781.0" y="385.0">42157</text><text x="695.4" y="414.1">59309</text><text x="683.5" y="418.5">38890</text><text x="711.7" y="444.5">75373</text><text x="878.0" y="427.0">44617</text><text x="1024.8" y="467.5">53604</text><text x="769.8" y="473.5">29366</text><text x="589.0" y="408.0">84344</text><text x="578.5" y="420.5">28602</text><text x="570.5" y="446.5">61580</text><text x="546.5" y="457.0">97622</text><text x="560.0" y="472.5">39568</text><text x="638.8" y="489.0">80149</text><text x="693.0" y="499.1">87344</text><text x="962.8" y="506.5">39895</text><text x="804.8" y="508.8">50143</text><text x="799.8" y="520.0">79111</text><text x="665.0" y="529.9">51259</text><text x="718.8" y="533.2">98871</text><text x="730.8" y="537.8">4369</text><text x="606.8" y="510.5">70954</text><text x="608.3" y="544.5">68521</text><text x="578.8" y="551.4">74102</text><text x="906.0" y="550.2">63445</text><text x="1134.4" y="599.3">53188</text><text x="642.0" y="591.4">53411</text><text x="674.0" y="592.0">16698</text><text x="685.0" y="591.0">13698</text><text x="742.7" y="592.4">60019</text><text x="584.4" y="594.5">25009</text><text x="578.5" y="610.0">14391</text><text x="553.0" y="623.0">11880</text><text x="701.7" y="634.7">42661</text><text x="622.0" y="644.5">62493</text><text x="664.5" y="675.5">36735</text><text x="939.0" y="657.5">204</text><text x="893.6" y="691.1">14160</text><text x="644.3" y="713.8">87909</text><text x="574.0" y="687.5">40695</text><text x="551.7" y="698.2">22302</text><text x="530.0" y="752.0">14652</text><text x="512.0" y="773.1">60489</text><text x="618.0" y="771.5">5276</text><text x="551.2" y="792.5">70453</text><text x="498.8" y="805.0">78029</text><text x="724.5" y="823.8">40497</text><text x="340.0" y="354.9">5577</text><text x="340.1" y="757.6">581</text><text x="340.4" y="643.8">60926</text><text x="340.5" y="637.0">61883</text><text x="340.5" y="607.2">26651</text><text x="340.6" y="733.5">12804</text><text x="340.8" y="661.1">48399</text><text x="340.9" y="620.5">27180</text><text x="341.1" y="695.0">76918</text><text x="341.1" y="409.9">3454</text><text x="341.2" y="633.9">42570</text><text x="341.2" y="151.0">13652</text><text x="341.7" y="280.1">26036</text><text x="342.3" y="344.2">57966</text><text x="342.3" y="484.1">6431</text><text x="343.0" y="445.5">34031</text><text x="343.1" y="645.3">18732</text><text x="343.1" y="202.7">64756</text><text x="343.3" y="297.9">41252</text><text x="343.9" y="147.6">34832</text><text x="344.1" y="263.6">93358</text><text x="344.4" y="403.9">59922</text><text x="344.5" y="560.1">48411</text><text x="344.5" y="360.6">52406</text><text x="344.6" y="450.9">10648</text><text x="344.6" y="655.5">61639</text><text x="344.6" y="321.6">79361</text><text x="344.9" y="445.3">28972</text><text x="345.3" y="273.2">57278</text><text x="345.6" y="616.1">70337</text><text x="345.8" y="174.0">49900</text><text x="345.9" y="756.8">74174</text><text x="346.2" y="416.2">37618</text><text x="346.2" y="305.6">75259</text><text x="346.4" y="440.1">9055</text><text x="346.5" y="368.5">52539</text><text x="346.6" y="670.0">11536</text><text x="346.8" y="402.3">2666</text><text x="347.0" y="524.0">73645</text><text x="347.0" y="727.1">55044</text><text x="347.1" y="388.1">97670</text><text x="347.1" y="232.5">75152</text><text x="347.1" y="418.5">66023</text><text x="347.2" y="248.8">21939</text><text x="347.2" y="609.3">18134</text><text x="347.3" y="497.6">79366</text><text x="347.5" y="137.7">72032</text><text x="347.8" y="442.6">79187</text><text x="348.2" y="578.6">9592</text><text x="349.2" y="545.2">65616</text><text x="349.4" y="271.3">65123</text><text x="349.4" y="381.8">76175</text><text x="349.4" y="446.5">35419</text><text x="349.5" y="741.7">37911</text><text x="349.5" y="511.9">34130</text><text x="349.8" y="367.1">10376</text><text x="350.0" y="624.4">21502</text><text x="350.0" y="432.0">35300</text><text x="350.2" y="518.1">90868</text><text x="350.5" y="661.8">71045</text><text x="350.7" y="375.4">74680</text><text x="350.7" y="447.1">49756</text><text x="351.0" y="284.7">9922</text><text x="351.3" y="296.1">9167</text><text x="351.7" y="631.7">45083</text><text x="351.7" y="604.6">42157</text><text x="351.8" y="425.9">4786</text><text x="351.9" y="719.5">25625</text><text x="352.1" y="351.4">15788</text><text x="352.2" y="256.1">98908</text><text x="352.2" y="528.3">9120</text><text x="352.3" y="164.7">82107</text><text x="352.4" y="395.9">56816</text><text x="352.5" y="543.6">10770</text><text x="352.6" y="225.6">6975</text><text x="352.6" y="229.5">93973</text><text x="352.9" y="604.1">31209</text><text x="352.9" y="726.8">35865</text><text x="352.9" y="669.3">51225</text><text x="353.1" y="635.8">35704</text><text x="353.3" y="461.1">42382</text><text x="353.5" y="655.3">98113</text><text x="353.5" y="670.0">82096</text><text x="353.7" y="451.8">9019</text><text x="354.0" y="150.0">51120</text><text x="354.1" y="457.0">59527</text><text x="354.1" y="634.8">2795</text><text x="354.3" y="720.8">38983</text><text x="354.7" y="331.6">31132</text><text x="354.8" y="640.0">16366</text><text x="354.9" y="643.6">85675</text><text x="354.9" y="339.2">90658</text><text x="355.1" y="556.3">1553</text><text x="355.2" y="360.9">90284</text><text x="355.2" y="138.0">23941</text><text x="355.3" y="471.8">27527</text><text x="355.4" y="633.6">11506</text><text x="355.5" y="444.9">2008</text><text x="355.6" y="388.3">2718</text><text x="355.7" y="325.3">8830</text><text x="355.9" y="270.9">15087</text><text x="356.1" y="295.2">99028</text><text x="356.1" y="697.5">40947</text><text x="356.3" y="255.8">35157</text><text x="356.4" y="337.8">92666</text><text x="356.7" y="145.0">31208</text><text x="356.7" y="216.0">1698</text><text x="356.8" y="604.1">57632</text><text x="356.9" y="373.9">14438</text><text x="357.0" y="188.6">36868</text><text x="357.1" y="343.0">47040</text><text x="357.2" y="461.8">16306</text><text x="357.2" y="658.3">4310</text><text x="357.3" y="613.1">22542</text><text x="357.3" y="643.2">55506</text><text x="357.9" y="739.3">89344</text><text x="358.0" y="350.8">69022</text><text x="358.1" y="607.6">43713</text><text x="358.3" y="278.7">90914</text><text x="358.3" y="464.2">34808</text><text x="358.3" y="552.7">29440</text><text x="358.4" y="601.9">93621</text><text x="359.1" y="272.7">66692</text><text x="359.1" y="533.4">62446</text><text x="359.2" y="534.3">69663</text><text x="359.5" y="640.7">69888</text><text x="359.5" y="570.1">26042</text><text x="359.6" y="372.7">7890</text><text x="360.1" y="425.1">19030</text><text x="360.4" y="429.0">26405</text><text x="360.9" y="644.9">51985</text><text x="361.3" y="635.2">92989</text><text x="361.4" y="552.5">5800</text><text x="361.4" y="189.8">69239</text><text x="361.9" y="296.1">74628</text><text x="362.0" y="284.4">10865</text><text x="362.6" y="651.4">28938</text><text x="362.6" y="407.6">47899</text><text x="363.0" y="330.5">93207</text><text x="363.1" y="194.3">72266</text><text x="363.5" y="621.4">14846</text><text x="363.5" y="692.8">43816</text><text x="363.6" y="244.1">1894</text><text x="363.9" y="402.3">21552</text><text x="364.0" y="495.0">16571</text><text x="364.0" y="619.3">75286</text><text x="364.3" y="591.8">2305</text><text x="364.6" y="746.4">72516</text><text x="364.7" y="493.6">6440</text><text x="364.8" y="597.4">50448</text><text x="365.0" y="298.5">15543</text><text x="365.8" y="506.5">80852</text><text x="366.0" y="247.0">47984</text><text x="366.0" y="492.2">29530</text><text x="366.2" y="329.8">89578</text><text x="366.7" y="289.4">33689</text><text x="366.8" y="141.5">70067</text><text x="367.1" y="484.6">43803</text><text x="367.5" y="159.9">36076</text><text x="367.7" y="279.3">11653</text><text x="367.7" y="667.6">58902</text><text x="368.0" y="419.0">72591</text><text x="368.0" y="362.6">33624</text><text x="368.0" y="485.0">44917</text><text x="368.1" y="284.7">48869</text><text x="368.1" y="713.6">17451</text><text x="368.3" y="669.2">57746</text><text x="368.3" y="294.4">61137</text><text x="368.3" y="709.0">48472</text><text x="368.3" y="541.5">76949</text><text x="368.6" y="252.0">9117</text><text x="368.7" y="238.1">92371</text><text x="368.8" y="504.4">9512</text><text x="368.9" y="595.0">53937</text><text x="368.9" y="558.3">58116</text><text x="369.5" y="314.0">68515</text><text x="369.7" y="143.2">35570</text><text x="369.8" y="184.9">70928</text><text x="369.8" y="450.7">63169</text><text x="370.0" y="477.4">97657</text><text x="370.0" y="611.4">93229</text><text x="370.2" y="344.8">67092</text><text x="370.4" y="194.8">36317</text><text x="370.4" y="137.1">69471</text><text x="370.7" y="566.9">14689</text><text x="370.8" y="546.7">77342</text><text x="371.4" y="658.7">34746</text><text x="371.6" y="227.1">67669</text><text x="372.0" y="560.3">90053</text><text x="372.6" y="596.2">82791</text><text x="372.7" y="547.3">75476</text><text x="372.8" y="408.3">53264</text><text x="373.2" y="130.5">75187</text><text x="373.2" y="474.2">67299</text><text x="373.7" y="458.7">55004</text><text x="373.9" y="453.6">92588</text><text x="374.1" y="133.6">82515</text><text x="374.3" y="142.5">74281</text><text x="374.4" y="591.4">44945</text><text x="374.6" y="152.2">39215</text><text x="374.7" y="593.4">73489</text><text x="374.7" y="691.3">59677</text><text x="374.8" y="387.2">56038</text><text x="374.9" y="408.4">3554</text><text x="375.0" y="643.4">38373</text><text x="375.1" y="419.6">44178</text><text x="375.4" y="631.1">24281</text><text x="375.7" y="736.2">96980</text><text x="375.8" y="710.2">70631</text><text x="375.9" y="242.3">38729</text><text x="376.0" y="150.0">35963</text><text x="376.3" y="735.5">95907</text><text x="376.4" y="641.2">21290</text><text x="376.9" y="237.7">40933</text><text x="377.0" y="286.8">63954</text><text x="377.0" y="539.9">73759</text><text x="377.0" y="279.1">68331</text><text x="377.1" y="535.3">32178</text><text x="377.3" y="389.3">11621</text><text x="377.3" y="258.7">35836</text><text x="377.3" y="488.3">73638</text><text x="377.5" y="284.7">7476</text><text x="377.6" y="317.6">99401</text><text x="377.7" y="337.5">51963</text><text x="377.9" y="289.8">922</text><text x="378.2" y="596.7">77015</text><text x="378.3" y="399.5">97307</text><text x="378.7" y="462.1">92014</text><text x="378.9" y="654.5">89842</text><text x="378.9" y="493.7">96048</text><text x="379.2" y="416.9">58760</text><text x="379.3" y="413.0">36584</text><text x="379.4" y="498.9">87130</text><text x="380.0" y="156.0">37935</text><text x="380.0" y="203.9">21495</text><text x="380.2" y="693.6">54747</text><text x="380.3" y="605.7">41365</text><text x="380.6" y="504.9">2809</text><text x="380.6" y="294.1">97761</text><text x="381.0" y="148.9">99065</text><text x="381.1" y="418.4">77763</text><text x="381.1" y="340.6">87230</text><text x="381.5" y="331.0">39703</text><text x="381.7" y="773.0">22484</text><text x="381.9" y="362.8">28499</text><text x="382.1" y="485.3">6524</text><text x="382.7" y="564.1">49637</text><text x="382.9" y="509.1">43045</text><text x="383.3" y="692.5">32968</text><text x="383.4" y="294.8">45133</text><text x="383.4" y="140.1">89023</text><text x="383.4" y="453.9">17444</text><text x="383.6" y="518.5">85429</text><text x="383.6" y="216.2">11966</text><text x="383.8" y="569.3">7787</text><text x="384.1" y="695.9">95733</text><text x="384.5" y="341.9">28698</text><text x="384.9" y="438.6">95411</text><text x="385.1" y="631.6">39906</text><text x="385.2" y="633.7">29571</text><text x="385.4" y="471.9">67875</text><text x="385.8" y="715.8">18577</text><text x="386.2" y="148.6">41697</text><text x="386.3" y="498.8">45032</text><text x="386.7" y="266.7">57233</text><text x="386.8" y="652.0">27482</text><text x="387.2" y="408.8">6185</text><text x="387.4" y="470.5">80836</text><text x="387.6" y="356.3">39354</text><text x="387.7" y="306.7">19033</text><text x="387.9" y="257.1">57528</text><text x="388.0" y="341.1">46980</text><text x="388.2" y="595.6">64938</text><text x="389.1" y="532.9">63191</text><text x="389.3" y="592.2">90322</text><text x="389.4" y="666.2">97063</text><text x="389.4" y="527.6">72033</text><text x="389.6" y="778.5">57722</text><text x="389.8" y="693.2">66106</text><text x="389.9" y="424.2">68484</text><text x="390.1" y="622.6">58093</text><text x="390.2" y="650.3">10105</text><text x="390.3" y="168.3">45991</text><text x="390.4" y="296.7">78835</text><text x="390.5" y="687.5">48070</text><text x="390.6" y="371.9">58126</text><text x="390.6" y="524.7">85851</text><text x="390.8" y="507.1">19277</text><text x="390.8" y="419.8">94278</text><text x="391.2" y="274.4">23330</text><text x="391.3" y="680.7">99257</text><text x="391.4" y="395.0">52007</text><text x="391.4" y="467.1">46001</text><text x="391.7" y="572.6">59837</text><text x="392.0" y="497.5">67554</text><text x="392.1" y="700.2">93790</text><text x="392.2" y="453.7">31512</text><text x="392.3" y="726.0">197</text><text x="392.3" y="191.3">43762</text><text x="392.4" y="418.4">27484</text><text x="392.5" y="508.7">30183</text><text x="392.6" y="260.4">53670</text><text x="392.9" y="472.8">75083</text><text x="393.1" y="722.9">49708</text><text x="393.2" y="482.2">45543</text><text x="393.3" y="133.5">49324</text><text x="393.4" y="612.6">49089</text><text x="393.6" y="205.8">14705</text><text x="393.6" y="464.7">27297</text><text x="393.6" y="674.0">31480</text><text x="393.7" y="561.2">8868</text><text x="393.7" y="301.7">30063</text><text x="393.7" y="479.3">31499</text><text x="394.4" y="288.1">154</text><text x="394.6" y="304.0">77910</text><text x="394.6" y="501.4">38524</text><text x="394.8" y="768.4">32898</text><text x="394.9" y="728.3">63997</text><text x="395.1" y="463.9">28398</text><text x="395.2" y="176.9">14945</text><text x="395.3" y="544.7">57921</text><text x="395.6" y="615.2">49710</text><text x="395.9" y="515.1">77233</text><text x="396.4" y="592.7">92150</text><text x="396.8" y="646.0">12143</text><text x="397.1" y="327.8">20891</text><text x="397.4" y="665.5">29779</text><text x="397.9" y="475.0">42227</text><text x="397.9" y="656.8">23226</text><text x="398.4" y="307.1">92827</text><text x="398.8" y="465.8">70145</text><text x="398.8" y="345.2">45580</text><text x="399.0" y="486.3">95039</text><text x="399.8" y="636.4">45697</text><text x="399.9" y="743.6">67448</text><text x="399.9" y="574.9">71938</text><text x="400.1" y="339.0">71632</text><text x="400.3" y="425.8">84248</text><text x="400.3" y="523.9">19157</text><text x="400.8" y="243.5">25444</text><text x="401.1" y="356.7">55838</text><text x="401.2" y="594.9">64216</text><text x="401.3" y="716.7">18644</text><text x="401.5" y="180.2">40873</text><text x="402.2" y="702.1">60375</text><text x="402.3" y="314.4">76724</text><text x="402.3" y="274.6">2288</text><text x="402.3" y="587.0">52617</text><text x="402.5" y="520.4">71287</text><text x="402.6" y="647.5">85698</text><text x="402.6" y="462.0">5484</text><text x="402.7" y="513.6">87169</text><text x="403.1" y="534.7">24664</text><text x="403.2" y="319.6">77660</text><text x="403.3" y="634.7">48827</text><text x="403.5" y="600.2">11705</text><text x="403.8" y="341.1">857</text><text x="404.0" y="430.6">257</text><text x="404.0" y="355.3">26818</text><text x="404.2" y="477.7">56375</text><text x="404.4" y="608.6">67236</text><text x="404.4" y="147.1">59664</text><text x="404.4" y="639.4">19303</text><text x="405.8" y="458.7">39978</text><text x="405.9" y="721.5">8643</text><text x="406.0" y="728.7">12388</text><text x="406.3" y="201.7">90727</text><text x="406.5" y="726.9">82862</text><text x="407.4" y="196.7">23292</text><text x="407.4" y="315.9">74767</text><text x="407.5" y="188.6">88481</text><text x="407.7" y="508.3">20460</text><text x="408.0" y="702.7">67899</text><text x="408.4" y="621.1">11724</text><text x="408.5" y="154.5">53084</text><text x="408.5" y="634.2">20392</text><text x="408.6" y="542.1">70035</text><text x="408.9" y="277.2">11786</text><text x="409.0" y="417.2">90032</text><text x="409.2" y="622.9">13627</text><text x="409.3" y="186.0">20215</text><text x="409.3" y="184.4">28642</text><text x="409.5" y="716.8">32704</text><text x="409.6" y="607.2">54871</text><text x="409.8" y="209.9">53980</text><text x="409.8" y="148.1">30714</text><text x="409.9" y="564.7">15984</text><text x="410.0" y="183.4">27048</text><text x="410.5" y="722.9">13943</text><text x="410.6" y="266.1">57887</text><text x="410.6" y="712.5">2631</text><text x="410.7" y="676.4">8181</text><text x="411.1" y="264.4">41336</text><text x="411.3" y="496.8">38294</text><text x="411.7" y="295.9">37837</text><text x="412.0" y="643.9">92706</text><text x="412.1" y="258.0">77457</text><text x="412.6" y="589.6">20743</text><text x="412.7" y="685.5">35104</text><text x="412.7" y="343.7">1410</text><text x="413.3" y="382.2">10020</text><text x="413.4" y="493.0">83675</text><text x="413.4" y="755.8">78446</text><text x="413.5" y="413.4">63599</text><text x="413.5" y="507.3">45249</text><text x="413.8" y="597.7">23645</text><text x="414.2" y="720.0">32960</text><text x="414.6" y="218.8">86846</text><text x="415.2" y="554.4">43742</text><text x="416.0" y="286.9">14675</text><text x="416.2" y="444.1">81162</text><text x="416.3" y="593.5">73137</text><text x="416.5" y="495.5">87617</text><text x="417.1" y="272.0">83486</text><text x="417.1" y="190.5">42626</text><text x="417.1" y="292.1">40980</text><text x="417.5" y="349.6">43884</text><text x="417.6" y="735.3">18310</text><text x="417.7" y="588.8">53077</text><text x="417.7" y="458.7">83449</text><text x="417.9" y="333.9">19457</text><text x="418.3" y="293.5">84059</text><text x="418.6" y="183.0">9401</text><text x="418.7" y="719.3">96837</text><text x="419.0" y="230.3">54418</text><text x="419.3" y="343.7">17295</text><text x="419.5" y="347.5">40978</text><text x="419.6" y="272.8">78327</text><text x="419.9" y="424.9">77312</text><text x="420.1" y="636.1">51245</text><text x="420.3" y="324.4">83078</text><text x="420.5" y="425.1">22326</text><text x="420.7" y="614.5">97860</text><text x="420.7" y="215.5">79711</text><text x="420.8" y="405.6">65808</text><text x="421.0" y="497.9">60687</text><text x="421.2" y="230.4">24024</text><text x="421.8" y="566.4">4796</text><text x="422.0" y="380.4">59577</text><text x="422.1" y="745.7">93337</text><text x="422.4" y="556.8">32468</text><text x="422.6" y="663.6">59895</text><text x="422.6" y="343.4">97932</text><text x="423.0" y="705.4">98727</text><text x="423.6" y="611.0">2939</text><text x="423.7" y="194.3">36009</text><text x="423.9" y="554.5">59559</text><text x="424.2" y="455.9">97233</text><text x="424.7" y="165.2">34092</text><text x="425.6" y="424.5">64632</text><text x="425.6" y="341.3">34486</text><text x="425.7" y="625.8">89280</text><text x="426.4" y="734.4">9231</text><text x="426.6" y="443.1">30081</text><text x="426.8" y="658.3">43966</text><text x="426.9" y="298.9">17098</text><text x="426.9" y="155.0">41071</text><text x="427.4" y="606.5">87879</text><text x="428.0" y="205.2">98818</text><text x="428.0" y="352.8">81174</text><text x="428.1" y="635.0">31132</text><text x="428.3" y="376.0">93230</text><text x="428.3" y="204.4">76133</text><text x="428.7" y="466.8">60258</text><text x="429.1" y="405.7">56136</text><text x="429.8" y="542.5">10513</text><text x="430.1" y="242.7">52810</text><text x="430.3" y="578.8">82009</text><text x="430.3" y="562.2">13506</text><text x="430.5" y="660.5">78349</text><text x="431.3" y="315.7">57560</text><text x="431.5" y="548.1">47740</text><text x="431.7" y="273.2">29253</text><text x="431.8" y="289.7">24039</text><text x="432.4" y="186.6">3760</text><text x="432.4" y="253.6">98144</text><text x="432.8" y="276.4">52636</text><text x="432.9" y="311.3">98249</text><text x="433.0" y="261.9">56008</text><text x="433.1" y="565.2">14398</text><text x="433.3" y="428.7">96532</text><text x="433.7" y="505.7">60241</text><text x="434.9" y="779.1">90557</text><text x="435.2" y="630.1">30768</text><text x="435.8" y="413.4">10572</text><text x="435.8" y="642.5">24901</text><text x="436.2" y="192.9">36960</text><text x="436.9" y="624.9">17015</text><text x="437.8" y="168.1">14510</text><text x="438.2" y="693.6">17986</text><text x="439.0" y="622.4">79471</text><text x="439.4" y="735.1">82629</text><text x="440.4" y="359.8">7221</text><text x="440.8" y="772.2">53287</text><text x="440.9" y="498.1">4351</text><text x="441.3" y="271.4">42009</text><text x="441.5" y="522.8">19294</text><text x="441.5" y="472.9">97695</text><text x="441.5" y="333.5">86102</text><text x="441.7" y="153.7">46764</text><text x="441.7" y="511.4">87267</text><text x="442.5" y="724.7">25941</text><text x="443.4" y="246.2">13571</text><text x="444.5" y="242.4">87140</text><text x="444.7" y="231.7">22591</text><text x="444.8" y="189.7">10753</text><text x="444.9" y="673.0">8822</text><text x="445.0" y="776.4">3964</text><text x="445.3" y="366.9">19724</text><text x="445.4" y="744.2">50022</text><text x="445.5" y="741.0">31753</text><text x="446.1" y="333.0">9534</text><text x="446.3" y="575.8">21987</text><text x="446.5" y="216.9">47707</text><text x="447.3" y="364.7">39175</text><text x="447.3" y="206.9">44489</text><text x="447.9" y="663.8">72064</text><text x="448.0" y="195.8">13296</text><text x="448.2" y="356.7">45160</text><text x="448.3" y="592.3">46297</text><text x="448.3" y="429.7">81289</text><text x="448.5" y="180.2">87353</text><text x="449.4" y="294.0">76045</text><text x="449.4" y="338.6">68441</text><text x="449.6" y="480.1">76955</text><text x="449.8" y="496.9">14173</text><text x="450.1" y="438.9">57115</text><text x="450.6" y="315.2">9985</text><text x="450.6" y="381.3">78783</text><text x="451.0" y="701.6">54616</text><text x="451.3" y="461.5">73858</text><text x="451.3" y="236.6">67573</text><text x="451.4" y="251.9">30682</text><text x="451.5" y="177.1">7947</text><text x="451.5" y="641.4">45600</text><text x="452.2" y="272.9">90083</text><text x="452.8" y="710.5">77636</text><text x="453.0" y="288.4">57606</text><text x="453.0" y="298.1">95705</text><text x="453.9" y="776.8">39862</text><text x="454.2" y="757.4">44077</text><text x="455.2" y="734.1">32180</text><text x="455.2" y="487.4">80918</text><text x="455.3" y="707.9">90585</text><text x="455.7" y="579.6">12970</text><text x="456.3" y="382.2">96832</text><text x="456.4" y="489.8">32584</text><text x="456.7" y="617.2">52040</text><text x="457.1" y="279.3">34409</text><text x="457.1" y="561.2">32497</text><text x="457.4" y="703.1">73357</text><text x="457.6" y="224.9">36361</text><text x="457.9" y="294.9">84276</text><text x="458.1" y="258.4">20589</text><text x="459.0" y="614.0">33225</text><text x="459.5" y="753.7">40116</text><text x="459.8" y="698.8">54410</text><text x="460.0" y="238.1">12944</text><text x="460.2" y="231.3">46535</text><text x="460.2" y="618.2">67696</text><text x="460.4" y="192.3">96671</text><text x="461.0" y="442.7">46852</text><text x="461.1" y="347.9">8205</text><text x="462.2" y="707.6">55538</text><text x="462.4" y="637.3">76428</text><text x="462.5" y="375.2">87760</text><text x="462.7" y="292.8">5958</text><text x="463.0" y="550.1">48280</text><text x="463.8" y="561.8">23075</text><text x="463.9" y="519.6">80479</text><text x="465.8" y="264.3">926</text><text x="465.9" y="312.5">21310</text><text x="465.9" y="270.9">39252</text><text x="466.1" y="296.8">24174</text><text x="466.2" y="465.0">55968</text><text x="466.2" y="633.0">61440</text><text x="467.5" y="289.2">85343</text><text x="468.4" y="255.7">49351</text><text x="468.6" y="404.0">60062</text><text x="469.0" y="654.5">31283</text><text x="469.0" y="617.0">13297</text><text x="470.5" y="436.3">59816</text><text x="472.1" y="225.8">36611</text><text x="472.3" y="536.8">45756</text><text x="474.3" y="393.6">12071</text><text x="474.9" y="505.3">5745</text><text x="475.4" y="419.8">16148</text><text x="476.1" y="349.6">66083</text><text x="476.1" y="594.1">46413</text><text x="476.5" y="444.8">93683</text><text x="477.1" y="301.6">76044</text><text x="477.2" y="351.5">77248</text><text x="478.9" y="751.6">90204</text><text x="479.5" y="667.7">32997</text><text x="480.0" y="662.2">79295</text><text x="480.5" y="185.1">61254</text><text x="481.2" y="772.6">62405</text><text x="483.1" y="686.5">83198</text><text x="484.4" y="654.1">58293</text><text x="486.2" y="719.0">33170</text><text x="486.4" y="370.6">82207</text><text x="486.6" y="692.4">49665</text><text x="488.3" y="556.3">4742</text><text x="488.9" y="441.3">1521</text><text x="490.0" y="606.6">82061</text><text x="490.4" y="376.9">6502</text><text x="491.6" y="223.8">94631</text><text x="491.8" y="332.0">68913</text><text x="492.1" y="637.4">734</text><text x="492.9" y="603.9">97484</text><text x="493.5" y="658.6">17584</text><text x="493.6" y="207.6">8876</text><text x="494.4" y="477.0">28122</text><text x="495.3" y="528.8">74419</text><text x="497.3" y="468.4">22934</text><text x="497.9" y="525.3">44295</text><text x="498.8" y="225.7">75278</text><text x="499.7" y="663.8">88531</text><text x="500.4" y="541.5">97605</text><text x="502.5" y="523.7">89081</text><text x="505.4" y="517.6">96489</text><text x="505.4" y="450.5">29170</text><text x="506.3" y="462.0">47947</text><text x="511.0" y="569.4">59966</text><text x="512.9" y="630.8">52662</text><text x="515.9" y="226.4">55360</text><text x="520.0" y="344.9">74626</text><text x="522.0" y="368.7">49793</text><text x="527.1" y="689.7">30162</text><text x="529.8" y="308.6">43854</text><text x="530.0" y="645.7">52962</text><text x="536.6" y="247.0">61456</text><text x="540.6" y="603.4">50142</text><text x="543.9" y="358.8">98912</text><text x="546.4" y="585.6">96978</text><text x="546.9" y="415.9">67098</text><text x="553.5" y="247.9">46987</text><text x="554.6" y="241.8">34591</text><text x="560.9" y="568.9">21742</text><text x="571.1" y="451.9">43607</text><text x="574.4" y="418.2">94022</text><text x="349.7" y="152.2">59296</text><text x="383.4" y="146.5">21047</text><text x="420.0" y="170.4">77497</text><text x="316.7" y="135.2">47714</text><text x="420.2" y="753.2">72655</text><text x="386.6" y="760.2">43287</text><text x="389.7" y="751.5">13278</text><text x="348.8" y="759.7">38002</text><text x="365.8" y="779.9">35764</text><text x="396.2" y="758.9">4625</text><text x="352.7" y="772.1">96769</text><text x="417.7" y="751.5">57916</text><text x="317.5" y="783.8">39594</text><text x="333.8" y="787.0">9500</text><text x="322.5" y="777.0">68618</text><text x="340.0" y="780.0">64214</text><text x="349.5" y="775.8">84760</text><text x="362.5" y="769.0">32512</text><text x="374.5" y="774.5">92157</text><text x="388.8" y="774.5">81139</text><text x="405.5" y="785.8">53188</text><text x="409.5" y="777.0">51341</text><text x="430.8" y="789.0">68494</text><text x="444.5" y="784.5">9185</text><text x="522.0" y="797.8">37131</text><text x="465.0" y="759.5">30862</text><text x="502.5" y="769.5">5882</text><text x="510.0" y="765.8">38247</text></g>
<g class="L b"><text x="269.3" y="539.7">14820</text></g>
<g class="L r"><text x="311.3" y="492.4">43701</text></g>
<g class="L b"><text x="286.8" y="500.0">95462</text></g>
<g class="L r"><text x="328.3" y="192.6">16026</text><text x="320.9" y="264.8">54346</text></g>
<g class="L g"><text x="272.9" y="168.0">29835</text></g>
<g class="L b"><text x="263.8" y="698.2">56419</text><text x="263.1" y="511.8">10771</text></g>
<g class="L r"><text x="297.5" y="573.8">72447</text><text x="295.4" y="720.3">16846</text></g>
<g class="L b"><text x="281.1" y="483.5">11283</text></g>
<g class="L g"><text x="293.6" y="450.7">76260</text></g>
<g class="L b"><text x="260.3" y="555.3">24866</text></g>
<g class="L r"><text x="331.4" y="263.8">55288</text><text x="306.6" y="742.4">28495</text></g>
<g class="L g"><text x="290.3" y="353.0">14565</text></g>
<g class="L r"><text x="322.1" y="251.6">78941</text><text x="311.5" y="630.1">52449</text><text x="292.9" y="788.5">17583</text></g>
<g class="L g"><text x="286.7" y="261.9">37439</text></g>
<g class="L b"><text x="259.6" y="558.2">99062</text></g>
<g class="L r"><text x="311.7" y="291.7">99326</text><text x="310.2" y="346.5">96104</text></g>
<g class="L g"><text x="277.1" y="198.8">5259</text><text x="284.2" y="185.5">25148</text></g>
<g class="L r"><text x="295.6" y="529.4">91381</text></g>
<g class="L g"><text x="272.4" y="250.9">98311</text></g>
<g class="L r"><text x="317.4" y="132.0">20222</text><text x="331.2" y="267.1">74825</text><text x="302.6" y="563.4">75478</text><text x="308.4" y="132.0">24295</text></g>
<g class="L b"><text x="271.2" y="524.8">1733</text></g>
<g class="L r"><text x="298.6" y="567.4">33908</text><text x="301.2" y="654.7">3838</text></g>
<g class="L g"><text x="290.2" y="392.3">85226</text></g>
<g class="L r"><text x="316.3" y="744.7">81765</text><text x="309.6" y="302.6">67588</text></g>
<g class="L b"><text x="268.8" y="768.1">1331</text><text x="268.0" y="606.5">735</text></g>
<g class="L r"><text x="308.1" y="270.0">80938</text></g>
<g class="L b"><text x="274.6" y="760.6">53508</text></g>
<g class="L r"><text x="318.9" y="233.3">82601</text></g>
<g class="L b"><text x="278.5" y="628.9">68041</text></g>
<g class="L r"><text x="327.4" y="385.7">15876</text></g>
<g class="L g"><text x="278.8" y="307.2">49998</text></g>
<g class="L r"><text x="291.9" y="618.2">19623</text></g>
<g class="L b"><text x="265.8" y="691.3">5530</text><text x="265.4" y="546.6">40429</text><text x="263.0" y="717.4">95540</text></g>
<g class="L g"><text x="296.8" y="414.6">62118</text></g>
<g class="L b"><text x="273.0" y="645.8">81372</text></g>
<g class="L r"><text x="318.7" y="187.2">29472</text></g>
<g class="L g"><text x="292.9" y="432.7">11776</text></g>
<g class="L r"><text x="288.8" y="737.2">15079</text><text x="325.3" y="314.7">40910</text></g>
<g class="L g"><text x="277.3" y="129.2">82092</text><text x="291.8" y="402.6">2032</text><text x="285.5" y="132.6">91967</text></g>
<g class="L r"><text x="329.5" y="197.3">60784</text><text x="304.8" y="551.0">83972</text></g>
<g class="L b"><text x="272.5" y="541.4">68826</text></g>
<g class="L g"><text x="287.3" y="222.6">15687</text></g>
<g class="L r"><text x="313.8" y="459.2">67609</text></g>
<g class="L g"><text x="293.4" y="292.9">52590</text><text x="286.4" y="292.9">82456</text><text x="281.2" y="442.4">15569</text><text x="279.6" y="126.0">24215</text></g>
<g class="L r"><text x="314.1" y="134.0">54765</text><text x="320.7" y="244.7">49472</text></g>
<g class="L b"><text x="288.3" y="523.1">69995</text></g>
<g class="L g"><text x="294.7" y="267.8">83223</text></g>
<g class="L b"><text x="258.7" y="634.7">40733</text></g>
<g class="L g"><text x="273.1" y="343.3">43827</text></g>
<g class="L b"><text x="279.9" y="490.2">64646</text><text x="267.6" y="756.8">43073</text></g>
<g class="L r"><text x="311.6" y="354.9">52829</text><text x="312.0" y="325.4">58351</text></g>
<g class="L b"><text x="276.6" y="753.2">94470</text></g>
<g class="L g"><text x="293.3" y="403.6">30285</text></g>
<g class="L r"><text x="314.2" y="445.1">22950</text></g>
<g class="L b"><text x="282.9" y="784.1">91526</text></g>
<g class="L r"><text x="317.0" y="566.8">24754</text></g>
<g class="L b"><text x="276.7" y="782.9">2024</text><text x="288.2" y="489.8">90713</text></g>
<g class="L r"><text x="309.1" y="411.9">74615</text></g>
<g class="L g"><text x="277.5" y="344.1">79434</text></g>
<g class="L b"><text x="259.7" y="567.5">97508</text><text x="272.6" y="651.5">10645</text></g>
<g class="L r"><text x="316.8" y="264.7">72281</text><text x="287.1" y="705.8">47073</text><text x="300.4" y="742.1">82378</text></g>
<g class="L b"><text x="280.5" y="633.7">9359</text></g>
<g class="L g"><text x="284.9" y="299.8">22095</text></g>
<g class="L r"><text x="313.2" y="792.8">24226</text></g>
<g class="L g"><text x="274.0" y="317.3">62164</text></g>
<g class="L r"><text x="290.3" y="572.9">59973</text><text x="302.1" y="530.6">5450</text></g>
<g class="L g"><text x="278.4" y="313.5">6379</text></g>
<g class="L r"><text x="322.0" y="326.4">84440</text></g>
<g class="L b"><text x="266.8" y="775.5">57755</text></g>
<g class="L r"><text x="315.3" y="539.5">67261</text></g>
<g class="L b"><text x="288.5" y="541.2">8915</text></g>
<g class="L r"><text x="304.1" y="643.6">76768</text></g>
<g class="L g"><text x="272.7" y="402.2">45458</text></g>
<g class="L r"><text x="334.6" y="145.9">70192</text><text x="330.8" y="168.1">52210</text><text x="309.6" y="200.7">80789</text><text x="287.0" y="574.4">6369</text><text x="305.8" y="753.9">70314</text><text x="323.3" y="240.9">31267</text><text x="292.1" y="748.7">41552</text><text x="315.5" y="600.0">92469</text><text x="292.1" y="720.2">81535</text></g>
<g class="L g"><text x="286.3" y="365.4">79737</text><text x="289.6" y="454.2">89420</text></g>
<g class="L b"><text x="277.5" y="540.5">40665</text></g>
<g class="L r"><text x="311.2" y="398.5">23975</text></g>
<g class="L g"><text x="278.9" y="249.7">40416</text></g>
<g class="L r"><text x="300.3" y="550.4">50746</text><text x="285.2" y="533.3">56863</text></g>
<g class="L b"><text x="268.4" y="737.1">95796</text></g>
<g class="L r"><text x="324.7" y="350.5">19021</text><text x="317.7" y="689.8">78436</text><text x="330.9" y="375.6">40947</text><text x="297.6" y="690.6">76695</text></g>
<g class="L b"><text x="270.4" y="641.1">88892</text></g>
<g class="L r"><text x="307.0" y="582.7">95594</text><text x="331.0" y="377.2">99363</text><text x="314.6" y="485.0">78031</text><text x="323.4" y="272.3">77038</text><text x="300.5" y="705.6">76604</text><text x="312.8" y="495.6">49301</text></g>
<g class="L b"><text x="264.0" y="515.7">16148</text></g>
<g class="L g"><text x="294.8" y="406.3">70389</text></g>
<g class="L r"><text x="312.6" y="132.0">36254</text></g>
<g class="L b"><text x="272.5" y="753.4">81901</text><text x="288.0" y="506.2">14490</text><text x="286.5" y="643.9">21440</text></g>
<g class="L g"><text x="285.9" y="338.6">60132</text><text x="295.4" y="142.4">54572</text><text x="294.3" y="275.4">2189</text></g>
<g class="L r"><text x="333.4" y="177.3">70351</text><text x="307.1" y="664.3">75378</text></g>
<g class="L g"><text x="293.2" y="229.8">35236</text></g>
<g class="L r"><text x="323.0" y="400.5">63773</text><text x="322.3" y="445.0">73756</text><text x="302.9" y="567.0">39232</text></g>
<g class="L g"><text x="287.0" y="209.3">30940</text><text x="293.9" y="202.4">92433</text></g>
<g class="L b"><text x="273.9" y="574.7">95516</text></g>
<g class="L r"><text x="318.0" y="543.2">21478</text></g>
<g class="L g"><text x="295.7" y="152.0">7867</text></g>
<g class="L r"><text x="331.9" y="379.1">53156</text></g>
<g class="L g"><text x="283.4" y="339.0">68804</text><text x="290.9" y="447.9">52643</text><text x="286.4" y="135.1">54526</text></g>
<g class="L b"><text x="267.6" y="725.7">4286</text></g>
<g class="L g"><text x="294.6" y="187.2">86006</text><text x="279.9" y="408.1">88935</text></g>
<g class="L r"><text x="315.7" y="423.8">52445</text><text x="308.4" y="234.4">91600</text></g>
<g class="L g"><text x="281.2" y="421.6">88938</text><text x="292.5" y="425.0">7822</text></g>
<g class="L r"><text x="311.6" y="438.4">99126</text></g>
<g class="L b"><text x="277.6" y="773.8">68269</text></g>
<g class="L r"><text x="314.9" y="358.6">11721</text><text x="312.3" y="667.1">15463</text></g>
<g class="L g"><text x="289.7" y="283.1">67289</text></g>
<g class="L r"><text x="308.8" y="753.8">42079</text><text x="321.2" y="150.3">96593</text><text x="320.7" y="446.0">59862</text><text x="320.8" y="228.5">42880</text></g>
<g class="L g"><text x="291.5" y="185.3">44466</text><text x="276.1" y="444.7">96121</text></g>
<g class="L b"><text x="267.2" y="774.4">80221</text></g>
<g class="L r"><text x="287.2" y="635.9">17783</text></g>
<g class="L g"><text x="294.3" y="347.6">90817</text><text x="273.8" y="309.4">58544</text></g>
<g class="L r"><text x="308.5" y="701.4">48713</text></g>
<g class="L g"><text x="277.3" y="174.4">61786</text></g>
<g class="L b"><text x="256.1" y="737.9">35558</text></g>
<g class="L g"><text x="274.8" y="394.0">96250</text></g>
<g class="L b"><text x="266.1" y="747.9">7559</text></g>
<g class="L r"><text x="316.9" y="323.4">74146</text><text x="301.9" y="793.2">12766</text></g>
<g class="L b"><text x="281.8" y="485.0">47396</text><text x="257.9" y="713.0">54551</text></g>
<g class="L r"><text x="289.5" y="500.8">15922</text><text x="313.1" y="402.3">36771</text><text x="310.1" y="727.7">17076</text><text x="291.6" y="493.9">1927</text><text x="327.6" y="461.0">19866</text></g>
<g class="L g"><text x="274.5" y="395.5">69365</text><text x="291.4" y="386.2">27230</text></g>
<g class="L b"><text x="257.6" y="547.4">29662</text></g>
<g class="L r"><text x="304.5" y="729.8">82304</text><text x="314.6" y="286.6">22927</text></g>
<g class="L b"><text x="262.2" y="555.6">92656</text></g>
<g class="L r"><text x="304.2" y="525.6">71605</text></g>
<g class="L b"><text x="256.4" y="735.9">3065</text></g>
<g class="L r"><text x="325.3" y="154.8">10155</text><text x="313.8" y="786.1">66755</text><text x="303.9" y="515.7">52750</text></g>
<g class="L b"><text x="255.2" y="786.2">1712</text></g>
<g class="L r"><text x="304.4" y="627.0">46981</text></g>
<g class="L b"><text x="274.5" y="506.6">24595</text></g>
<g class="L r"><text x="297.8" y="796.5">39182</text><text x="309.1" y="732.5">80838</text></g>
<g class="L b"><text x="283.6" y="616.5">11644</text></g>
<g class="L r"><text x="289.1" y="790.1">71957</text><text x="308.8" y="485.6">83431</text></g>
<g class="L g"><text x="284.2" y="409.3">3812</text></g>
<g class="L r"><text x="293.2" y="515.6">98911</text></g>
<g class="L b"><text x="270.8" y="653.8">46201</text><text x="267.4" y="699.2">99222</text></g>
<g class="L g"><text x="272.4" y="118.0">1962</text></g>
<g class="L b"><text x="279.7" y="573.7">18202</text></g>
<g class="L r"><text x="322.4" y="458.9">77964</text><text x="317.9" y="318.2">9883</text><text x="312.0" y="242.1">85518</text></g>
<g class="L b"><text x="281.8" y="580.7">81470</text></g>
<g class="L g"><text x="286.5" y="452.0">58808</text></g>
<g class="L r"><text x="293.8" y="529.5">1105</text><text x="293.8" y="519.1">55056</text></g>
<g class="L b"><text x="273.3" y="774.1">48849</text></g>
<g class="L g"><text x="280.0" y="207.0">74647</text></g>
<g class="L b"><text x="274.6" y="599.2">93696</text></g>
<g class="L g"><text x="292.2" y="146.7">57897</text><text x="294.2" y="343.0">23208</text></g>
<g class="L r"><text x="329.4" y="390.6">23171</text><text x="299.0" y="512.2">39274</text><text x="320.3" y="255.3">98951</text></g>
<g class="L g"><text x="279.7" y="309.1">77537</text><text x="280.8" y="144.7">88337</text></g>
<g class="L b"><text x="264.6" y="656.4">28984</text></g>
<g class="L g"><text x="275.3" y="186.3">86551</text><text x="289.9" y="149.1">90710</text></g>
<g class="L r"><text x="310.4" y="678.6">30667</text></g>
<g class="L b"><text x="266.0" y="535.1">33793</text></g>
<g class="L g"><text x="283.7" y="436.5">19446</text></g>
<g class="L r"><text x="308.5" y="772.5">94724</text></g>
<g class="L g"><text x="274.3" y="445.1">654</text></g>
<g class="L r"><text x="312.3" y="726.1">5689</text></g>
<g class="L b"><text x="277.8" y="651.6">53287</text></g>
<g class="L r"><text x="316.3" y="310.6">74224</text><text x="330.9" y="253.7">13225</text><text x="287.1" y="488.6">41166</text></g>
<g class="L b"><text x="256.1" y="657.7">31324</text></g>
<g class="L r"><text x="315.1" y="599.2">31499</text><text x="315.4" y="747.1">19034</text></g>
<g class="L g"><text x="290.9" y="319.5">26905</text></g>
<g class="L r"><text x="333.2" y="310.3">46472</text></g>
<g class="L g"><text x="288.8" y="385.8">34438</text><text x="293.2" y="464.3">17898</text></g>
<g class="L r"><text x="324.2" y="387.4">3451</text><text x="314.0" y="409.4">13066</text><text x="326.5" y="201.9">30450</text><text x="287.8" y="547.5">15648</text><text x="291.6" y="643.2">37725</text><text x="318.0" y="207.8">40480</text><text x="308.1" y="434.5">24626</text></g>
<g class="L b"><text x="267.5" y="631.0">86883</text><text x="269.2" y="722.2">78255</text></g>
<g class="L r"><text x="298.7" y="597.2">75895</text></g>
<g class="L g"><text x="289.5" y="469.1">36541</text><text x="275.4" y="170.0">41473</text></g>
<g class="L b"><text x="283.6" y="629.8">4686</text></g>
<g class="L g"><text x="282.6" y="196.6">31335</text></g>
<g class="L r"><text x="301.1" y="578.2">65180</text><text x="308.1" y="531.4">31167</text><text x="289.3" y="581.8">24609</text><text x="314.0" y="637.8">6863</text></g>
<g class="L g"><text x="287.7" y="420.9">35257</text></g>
<g class="L r"><text x="333.4" y="177.9">75613</text></g>
<g class="L g"><text x="272.9" y="360.3">98216</text><text x="295.7" y="447.0">17261</text></g>
<g class="L r"><text x="308.5" y="179.8">74007</text></g>
<g class="L g"><text x="284.8" y="231.8">92754</text></g>
<g class="L r"><text x="320.7" y="234.7">72646</text><text x="315.5" y="288.3">2888</text><text x="301.4" y="613.9">7540</text><text x="302.2" y="575.0">968</text></g>
<g class="L b"><text x="261.4" y="666.8">75586</text></g>
<g class="L g"><text x="278.2" y="190.2">78609</text></g>
<g class="L r"><text x="311.0" y="223.9">91695</text><text x="327.9" y="217.2">63493</text></g>
<g class="L g"><text x="273.8" y="409.3">33625</text><text x="294.3" y="289.4">81109</text></g>
<g class="L b"><text x="271.1" y="640.0">61270</text></g>
<g class="L r"><text x="329.4" y="229.7">72332</text><text x="327.2" y="255.3">97316</text><text x="331.0" y="418.8">74010</text><text x="325.7" y="334.0">15274</text></g>
<g class="L g"><text x="287.9" y="193.0">45342</text></g>
<g class="L b"><text x="258.0" y="592.0">64182</text></g>
<g class="L r"><text x="311.7" y="291.7">93615</text></g>
<g class="L g"><text x="288.0" y="153.8">78770</text><text x="289.8" y="118.0">43483</text></g>
<g class="L r"><text x="287.7" y="550.0">19847</text></g>
<g class="L b"><text x="272.3" y="708.7">88517</text></g>
<g class="L r"><text x="334.8" y="389.5">32203</text><text x="319.5" y="438.9">68337</text><text x="293.6" y="724.8">25371</text></g>
<g class="L g"><text x="272.6" y="267.6">79790</text></g>
<g class="L r"><text x="308.5" y="732.3">19951</text></g>
<g class="L b"><text x="265.1" y="791.8">55785</text><text x="265.5" y="703.2">84475</text></g>
<g class="L r"><text x="297.0" y="555.6">45243</text></g>
<g class="L g"><text x="292.9" y="222.6">74605</text></g>
<g class="L b"><text x="276.0" y="725.2">72160</text><text x="256.3" y="539.2">20633</text><text x="256.4" y="668.5">61161</text></g>
<g class="L g"><text x="295.9" y="226.4">86298</text><text x="295.7" y="196.8">83484</text></g>
<g class="L r"><text x="316.9" y="526.1">69088</text></g>
<g class="L b"><text x="266.1" y="538.7">36208</text></g>
<g class="L g"><text x="288.6" y="240.7">77855</text></g>
<g class="L r"><text x="316.5" y="273.0">75781</text></g>
<g class="L g"><text x="275.1" y="118.0">79371</text></g>
<g class="L r"><text x="309.9" y="489.6">48513</text><text x="285.2" y="757.3">8216</text></g>
<g class="L g"><text x="295.7" y="250.9">93403</text></g>
<g class="L r"><text x="309.8" y="616.9">73517</text></g>
<g class="L b"><text x="271.1" y="489.6">69378</text></g>
<g class="L g"><text x="289.8" y="463.6">5491</text></g>
<g class="L b"><text x="257.5" y="722.3">89666</text></g>
<g class="L r"><text x="306.0" y="571.9">13650</text><text x="306.3" y="503.9">65739</text></g>
<g class="L g"><text x="293.7" y="137.9">37649</text></g>
<g class="L b"><text x="280.9" y="511.4">88146</text><text x="279.0" y="553.1">96790</text></g>
<g class="L r"><text x="317.0" y="630.5">83103</text><text x="319.5" y="418.5">18325</text><text x="312.3" y="338.3">81067</text></g>
<g class="L b"><text x="272.3" y="742.7">68466</text><text x="257.1" y="505.0">39228</text></g>
<g class="L r"><text x="290.7" y="689.6">91245</text><text x="327.5" y="141.5">99740</text><text x="313.8" y="525.7">88061</text></g>
<g class="L g"><text x="284.8" y="228.3">17287</text></g>
<g class="L r"><text x="320.3" y="342.4">15728</text><text x="308.2" y="151.7">75977</text><text x="288.9" y="628.3">14122</text><text x="309.9" y="552.4">2547</text><text x="320.7" y="356.2">47481</text><text x="294.3" y="631.1">73927</text><text x="334.3" y="132.0">67461</text><text x="302.4" y="539.6">21167</text></g>
<g class="L b"><text x="267.3" y="562.9">5366</text></g>
<g class="L g"><text x="293.6" y="242.1">70769</text></g>
<g class="L r"><text x="310.4" y="183.6">33826</text></g>
<g class="L g"><text x="285.5" y="221.9">822</text></g>
<g class="L b"><text x="283.7" y="679.6">5700</text></g>
<g class="L r"><text x="290.0" y="505.9">31105</text><text x="330.5" y="191.2">75316</text><text x="334.6" y="359.2">86610</text></g>
<g class="L b"><text x="286.6" y="573.9">6833</text></g>
<g class="L g"><text x="283.8" y="353.4">4423</text><text x="274.4" y="378.9">77501</text></g>
<g class="L b"><text x="277.0" y="746.2">52681</text></g>
<g class="L g"><text x="272.5" y="246.2">58061</text></g>
<g class="L r"><text x="332.1" y="179.1">75675</text><text x="310.4" y="251.8">69886</text><text x="295.1" y="566.9">8966</text></g>
<g class="L g"><text x="290.6" y="227.2">40443</text></g>
<g class="L r"><text x="311.6" y="540.3">71514</text><text x="334.6" y="286.8">55394</text><text x="296.0" y="521.2">2111</text><text x="308.2" y="306.0">62146</text></g>
<g class="L g"><text x="275.3" y="345.2">62755</text></g>
<g class="L b"><text x="288.2" y="678.2">50625</text><text x="256.1" y="726.5">64248</text><text x="287.6" y="607.0">1318</text></g>
<g class="L r"><text x="328.9" y="316.6">11043</text></g>
<g class="L b"><text x="258.6" y="550.7">86254</text></g>
<g class="L r"><text x="300.3" y="736.3">85814</text><text x="334.1" y="370.5">18556</text></g>
<g class="L b"><text x="281.5" y="585.9">95854</text></g>
<g class="L r"><text x="315.1" y="640.5">2874</text></g>
<g class="L g"><text x="290.2" y="381.6">82724</text></g>
<g class="L r"><text x="317.0" y="146.9">77626</text><text x="296.5" y="762.8">34516</text><text x="288.6" y="659.7">11338</text></g>
<g class="L g"><text x="288.7" y="396.8">15644</text></g>
<g class="L r"><text x="326.3" y="266.1">10680</text></g>
<g class="L g"><text x="275.1" y="224.2">14539</text></g>
<g class="L b"><text x="278.1" y="528.7">3695</text></g>
<g class="L g"><text x="287.5" y="455.3">44472</text></g>
<g class="L r"><text x="315.3" y="539.7">80326</text></g>
<g class="L g"><text x="276.5" y="238.4">85802</text><text x="283.5" y="297.3">37511</text><text x="288.9" y="416.2">71932</text></g>
<g class="L r"><text x="309.8" y="224.7">78071</text></g>
<g class="L g"><text x="281.8" y="179.7">51851</text></g>
<g class="L r"><text x="309.4" y="725.4">72340</text></g>
<g class="L b"><text x="259.2" y="698.8">21910</text></g>
<g class="L r"><text x="287.4" y="771.3">27129</text></g>
<g class="L b"><text x="271.6" y="786.1">26996</text></g>
<g class="L g"><text x="297.0" y="142.0">53421</text></g>
<g class="L r"><text x="302.1" y="583.3">58471</text></g>
<g class="L b"><text x="278.5" y="705.8">60635</text></g>
<g class="L r"><text x="313.4" y="578.8">19221</text></g>
<g class="L b"><text x="273.7" y="688.0">90718</text></g>
<g class="L r"><text x="316.4" y="646.7">30744</text><text x="309.9" y="676.1">88736</text><text x="325.6" y="190.6">6542</text></g>
<g class="L g"><text x="282.7" y="236.4">89838</text></g>
<g class="L r"><text x="326.7" y="157.2">54997</text><text x="319.5" y="387.4">42852</text><text x="308.9" y="539.9">24062</text></g>
<g class="L b"><text x="271.0" y="517.1">57776</text><text x="255.8" y="737.3">54528</text></g>
<g class="L r"><text x="295.0" y="793.1">5090</text><text x="317.0" y="168.5">45592</text><text x="291.4" y="632.3">18065</text><text x="292.9" y="643.4">63223</text><text x="288.4" y="570.0">19770</text><text x="290.2" y="770.7">47090</text><text x="308.4" y="585.8">46118</text><text x="293.6" y="670.4">12092</text><text x="309.5" y="351.8">84166</text></g>
<g class="L b"><text x="272.4" y="551.0">81135</text></g>
<g class="L g"><text x="287.8" y="224.3">42478</text></g>
<g class="L r"><text x="323.5" y="132.0">20533</text><text x="328.7" y="420.3">92274</text></g>
<g class="L b"><text x="260.4" y="621.5">95702</text></g>
<g class="L r"><text x="290.2" y="670.1">99631</text><text x="311.3" y="443.9">54907</text><text x="317.3" y="247.3">75584</text></g>
<g class="L g"><text x="290.0" y="137.1">68838</text></g>
<g class="L b"><text x="259.1" y="656.3">85326</text><text x="277.2" y="518.2">2750</text></g>
<g class="L r"><text x="290.8" y="713.7">57889</text><text x="302.9" y="777.3">22799</text></g>
<g class="L g"><text x="284.8" y="167.7">82563</text></g>
<g class="L b"><text x="271.9" y="704.0">39425</text></g>
<g class="L g"><text x="286.3" y="344.8">48975</text></g>
<g class="L r"><text x="307.7" y="751.1">85122</text><text x="314.4" y="437.0">68761</text><text x="312.8" y="638.7">18505</text><text x="286.3" y="549.5">21479</text><text x="294.9" y="490.3">44495</text></g>
<g class="L g"><text x="289.1" y="315.8">5406</text></g>
<g class="L r"><text x="313.7" y="211.3">86997</text></g>
<g class="L b"><text x="257.4" y="780.3">13243</text></g>
<g class="L r"><text x="312.0" y="606.5">79256</text></g>
<g class="L g"><text x="282.0" y="275.7">95838</text></g>
<g class="L r"><text x="313.4" y="643.9">87936</text></g>
<g class="L b"><text x="281.9" y="538.1">15504</text></g>
<g class="L r"><text x="326.5" y="237.2">83758</text><text x="302.4" y="766.5">52070</text><text x="311.6" y="554.5">33233</text><text x="333.1" y="376.6">10197</text></g>
<g class="L b"><text x="282.4" y="583.8">55909</text></g>
<g class="L r"><text x="325.5" y="240.5">3017</text><text x="331.2" y="139.3">38503</text></g>
<g class="L g"><text x="286.4" y="446.6">40627</text></g>
<g class="L r"><text x="317.1" y="690.9">25731</text></g>
<g class="L g"><text x="292.9" y="392.8">2979</text><text x="272.3" y="444.6">30009</text><text x="284.3" y="128.0">28386</text><text x="216.1" y="93.7">95347</text><text x="201.0" y="92.5">48579</text><text x="163.7" y="87.0">22186</text><text x="203.5" y="96.3">3117</text><text x="277.5" y="120.4">32196</text><text x="180.7" y="88.2">1592</text><text x="215.6" y="98.3">62426</text><text x="238.5" y="106.7">94050</text><text x="256.2" y="110.4">66710</text><text x="165.7" y="88.1">64444</text><text x="256.9" y="118.9">61229</text><text x="157.4" y="80.3">52078</text><text x="222.8" y="100.8">54837</text><text x="227.2" y="103.9">49324</text><text x="242.0" y="112.1">78964</text><text x="236.2" y="104.4">47500</text><text x="203.2" y="93.9">54969</text><text x="282.1" y="124.9">64050</text><text x="276.9" y="120.4">21845</text><text x="189.3" y="86.8">51583</text><text x="153.9" y="80.5">95139</text><text x="170.0" y="83.0">84024</text><text x="193.5" y="88.9">46262</text><text x="234.1" y="100.5">73414</text><text x="222.6" y="98.1">94225</text><text x="264.8" y="114.9">10722</text><text x="217.0" y="94.4">75226</text><text x="284.0" y="121.8">37975</text><text x="234.7" y="100.5">91298</text><text x="188.2" y="87.5">58848</text><text x="229.5" y="99.4">57910</text><text x="180.4" y="84.6">47211</text><text x="228.9" y="102.8">98836</text><text x="153.5" y="79.1">27542</text><text x="169.2" y="82.9">99435</text><text x="282.0" y="124.0">27331</text><text x="213.7" y="93.0">5608</text><text x="168.9" y="82.2">15462</text><text x="252.9" y="108.3">12998</text><text x="139.8" y="192.1">51538</text><text x="139.5" y="339.2">91335</text><text x="140.4" y="289.7">61510</text><text x="140.6" y="165.1">66043</text><text x="141.3" y="250.0">29723</text><text x="142.4" y="249.5">62491</text><text x="140.3" y="334.7">57188</text><text x="141.8" y="329.6">79677</text><text x="142.4" y="151.3">50640</text><text x="140.6" y="90.1">50299</text><text x="140.9" y="188.6">11145</text><text x="141.5" y="318.8">21969</text><text x="140.0" y="283.0">83665</text><text x="140.0" y="234.3">84675</text><text x="141.0" y="340.3">53882</text><text x="141.3" y="161.5">59467</text><text x="139.5" y="326.4">24040</text><text x="140.6" y="209.4">89254</text><text x="141.2" y="346.9">77886</text><text x="139.7" y="393.0">57395</text><text x="141.7" y="334.4">65203</text><text x="141.4" y="156.2">30427</text><text x="141.7" y="164.0">77436</text><text x="142.4" y="357.8">66212</text><text x="142.4" y="303.2">33255</text><text x="140.2" y="104.1">83801</text><text x="141.5" y="201.1">35564</text><text x="140.6" y="356.0">94320</text><text x="141.7" y="125.7">50644</text><text x="142.2" y="268.5">97037</text></g>
<g class="L b"><text x="136.2" y="766.0">42085</text><text x="136.1" y="587.3">54839</text><text x="135.5" y="519.5">33947</text><text x="138.0" y="704.0">94178</text><text x="136.7" y="751.2">60058</text><text x="137.7" y="703.1">26297</text><text x="137.6" y="657.3">93920</text><text x="137.0" y="763.0">85395</text><text x="135.8" y="470.1">5301</text><text x="136.8" y="765.9">34916</text><text x="137.2" y="573.3">2250</text><text x="136.7" y="637.7">81913</text><text x="137.0" y="588.5">64994</text><text x="136.8" y="583.3">63520</text><text x="136.8" y="458.0">64023</text><text x="138.0" y="703.4">72945</text><text x="137.5" y="552.8">14892</text><text x="137.4" y="550.5">32536</text><text x="136.4" y="475.1">6186</text><text x="136.1" y="666.0">15740</text><text x="136.3" y="611.9">966</text><text x="135.1" y="665.7">3553</text><text x="137.1" y="505.5">17300</text><text x="137.8" y="729.0">14535</text><text x="137.7" y="692.3">86571</text><text x="135.9" y="614.0">62125</text><text x="137.8" y="704.7">83821</text><text x="137.0" y="758.7">66773</text><text x="137.6" y="739.0">4077</text><text x="136.9" y="524.5">710</text></g>
<g class="L g"><text x="225.5" y="435.4">34579</text><text x="167.9" y="441.6">73356</text><text x="166.9" y="437.6">46630</text><text x="184.5" y="439.5">70323</text><text x="209.5" y="439.9">79168</text><text x="163.1" y="444.1">73878</text><text x="204.6" y="436.3">62181</text><text x="228.5" y="442.7">44441</text><text x="195.6" y="437.4">42710</text><text x="195.3" y="438.3">2197</text><text x="154.7" y="435.2">71593</text><text x="223.2" y="439.5">23336</text><text x="236.2" y="437.9">86923</text><text x="151.5" y="444.5">23320</text><text x="230.4" y="437.0">81238</text><text x="214.4" y="444.2">34751</text><text x="190.4" y="435.9">82936</text><text x="206.9" y="435.4">87630</text><text x="148.0" y="438.0">93383</text><text x="183.3" y="443.1">976</text><text x="160.8" y="440.5">70891</text><text x="196.7" y="444.3">57891</text><text x="151.9" y="434.7">62538</text><text x="244.8" y="446.0">25115</text><text x="221.4" y="444.5">19410</text><text x="241.9" y="445.4">98738</text><text x="194.2" y="444.7">82565</text><text x="240.0" y="444.8">67202</text><text x="145.6" y="439.9">16617</text><text x="169.6" y="434.4">28424</text></g>
<g class="L b"><text x="216.8" y="459.2">96208</text><text x="219.9" y="462.8">23819</text><text x="200.5" y="460.0">28771</text><text x="173.3" y="464.8">16216</text><text x="190.9" y="460.1">27480</text><text x="188.0" y="460.0">66250</text><text x="147.9" y="460.3">23922</text><text x="216.2" y="460.6">68728</text><text x="193.0" y="458.2">33002</text></g>
<g class="L g"><text x="169.5" y="454.6">998</text><text x="254.0" y="454.6">689</text></g>
<g class="L r"><text x="336.5" y="105.5">97294</text><text x="366.5" y="118.0">30764</text><text x="407.0" y="131.0">41603</text></g>
</g>
<path d="M75.7 196.55H83M75.7 335.15H83M75.7 473.75H83M75.7 612.35H83M75.7 750.95H83M191.00 876V883.3M427.88 876V883.3M664.75 876V883.3M901.62 876V883.3M1138.50 876V883.3" stroke="#262626" stroke-width="2.8" fill="none"/>
<g font-size="23.47" fill="#3C3C3C">
<text x="69.5" y="205.8" text-anchor="end">2</text>
<text x="69.5" y="344.3" text-anchor="end">1</text>
<text x="69.5" y="482.9" text-anchor="end">0</text>
<text x="69.5" y="621.6" text-anchor="end">-1</text>
<text x="69.5" y="760.2" text-anchor="end">-2</text>
<text x="191.0" y="906.5" text-anchor="middle">0</text>
<text x="427.9" y="906.5" text-anchor="middle">5</text>
<text x="664.8" y="906.5" text-anchor="middle">10</text>
<text x="901.6" y="906.5" text-anchor="middle">15</text>
<text x="1138.5" y="906.5" text-anchor="middle">20</text>
</g>
<text x="633.5" y="941" font-size="29.6" text-anchor="middle" fill="#000">Dim1 (33.6%)</text>
<text transform="translate(37,469) rotate(-90)" font-size="29.6" text-anchor="middle" fill="#000">Dim2 (23%)</text>
<text x="83" y="39.3" font-size="35.2" fill="#000">Cluster plot</text>
<text x="1228.5" y="402.5" font-size="29.33" fill="#000">cluster</text>
<defs><clipPath id="k1"><rect x="1228" y="421" width="47" height="45.6"/></clipPath><clipPath id="k2"><rect x="1228" y="467" width="47" height="45.6"/></clipPath></defs>
<rect x="1230.10" y="422.65" width="42.30" height="41.6" fill="#EED0CE" stroke="#F1605C" stroke-width="2.7"/>
<circle class="r" cx="1251.25" cy="443.80" r="9.4"/>
<text class="L r" clip-path="url(#k1)" x="1251.2" y="475.3">a</text>
<rect x="1230.10" y="468.75" width="42.30" height="41.6" fill="#B8E2C1" stroke="#19AF2D" stroke-width="2.7"/>
<polygon class="g" points="1251.25,475.40 1263.75,497.10 1238.75,497.10"/>
<text class="L g" clip-path="url(#k2)" x="1251.2" y="521.4">a</text>
<rect x="1230.10" y="514.75" width="42.30" height="41.6" fill="#CCD9F3" stroke="#5087FF" stroke-width="2.7"/>
<rect class="b" x="1241.85" y="526.50" width="18.8" height="18.8"/>
<text x="1289.5" y="453" font-size="23.47" fill="#000">1</text>
<text x="1289.5" y="498.8" font-size="23.47" fill="#000">2</text>
<text x="1289.5" y="545" font-size="23.47" fill="#000">3</text>
<text class="L b" x="1251.2" y="567.5">a</text>
</g></svg></body></html>
